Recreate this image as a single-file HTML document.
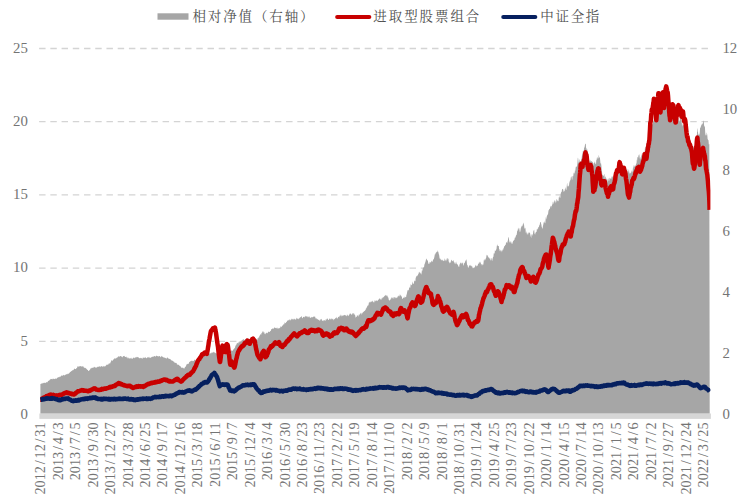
<!DOCTYPE html>
<html lang="zh"><head><meta charset="utf-8"><title>chart</title>
<style>
html,body{margin:0;padding:0;background:#fff;}
body{width:741px;height:498px;overflow:hidden;font-family:"Liberation Serif",serif;}
svg{display:block;}
</style></head><body>
<svg width="741" height="498" viewBox="0 0 741 498">
<rect width="741" height="498" fill="#fff"/>
<line x1="39.1" x2="708" y1="48.5" y2="48.5" stroke="#d4d4d4" stroke-width="1.3" stroke-dasharray="6.45 4.777"/>
<line x1="39.1" x2="708" y1="121.7" y2="121.7" stroke="#d4d4d4" stroke-width="1.3" stroke-dasharray="6.45 4.777"/>
<line x1="39.1" x2="708" y1="194.9" y2="194.9" stroke="#d4d4d4" stroke-width="1.3" stroke-dasharray="6.45 4.777"/>
<line x1="39.1" x2="708" y1="268.1" y2="268.1" stroke="#d4d4d4" stroke-width="1.3" stroke-dasharray="6.45 4.777"/>
<line x1="39.1" x2="708" y1="341.3" y2="341.3" stroke="#d4d4d4" stroke-width="1.3" stroke-dasharray="6.45 4.777"/>
<path d="M40.4,413.7 L40.4,383.7 40.7,383.9 41.0,383.9 41.3,383.4 41.6,383.5 41.9,383.4 42.2,383.5 42.5,383.6 42.8,383.0 43.1,382.6 43.4,383.3 43.7,383.1 44.0,383.3 44.3,382.6 44.6,382.7 44.9,383.0 45.2,382.6 45.5,383.1 45.8,383.2 46.1,382.3 46.4,382.0 46.7,382.3 47.0,382.8 47.3,382.3 47.6,381.7 47.9,381.6 48.2,381.0 48.5,380.8 48.8,380.8 49.1,380.7 49.4,380.2 49.7,379.9 50.0,379.6 50.3,379.6 50.6,379.2 50.9,378.7 51.2,379.2 51.5,379.1 51.8,379.1 52.1,378.6 52.4,379.3 52.7,379.4 53.0,378.6 53.3,378.5 53.6,378.9 53.9,379.0 54.2,379.2 54.5,378.7 54.8,379.0 55.1,378.8 55.4,378.4 55.7,378.5 56.0,378.8 56.3,378.9 56.6,378.5 56.9,378.3 57.2,377.6 57.5,377.5 57.8,377.9 58.1,377.6 58.4,377.1 58.7,377.2 59.0,377.3 59.3,377.2 59.6,376.8 59.9,376.6 60.2,376.5 60.5,376.7 60.8,376.4 61.1,376.0 61.4,375.9 61.7,375.2 62.0,374.9 62.3,375.5 62.6,376.0 62.9,375.7 63.2,375.3 63.5,374.8 63.8,375.0 64.1,375.5 64.4,375.4 64.7,375.0 65.0,375.2 65.3,374.5 65.6,374.5 65.9,375.0 66.2,374.6 66.5,374.3 66.8,373.9 67.1,374.1 67.4,374.5 67.7,373.4 68.0,373.8 68.3,373.8 68.6,373.8 68.9,373.5 69.2,373.3 69.5,372.8 69.8,372.5 70.1,372.1 70.4,371.4 70.7,372.0 71.0,371.7 71.3,371.0 71.6,371.0 71.9,370.8 72.2,370.5 72.5,370.2 72.8,370.2 73.1,370.2 73.4,370.1 73.7,369.7 74.0,368.9 74.3,368.7 74.6,368.5 74.9,368.8 75.2,369.2 75.5,369.1 75.8,368.9 76.1,368.8 76.4,367.9 76.7,368.2 77.0,368.0 77.3,367.0 77.6,366.5 77.9,366.1 78.2,366.9 78.5,366.5 78.8,366.2 79.1,366.7 79.4,366.5 79.7,366.1 80.0,366.0 80.3,366.5 80.6,366.1 80.9,366.1 81.2,366.7 81.5,366.5 81.8,366.3 82.1,366.4 82.4,365.9 82.7,366.4 83.0,366.7 83.3,366.6 83.6,366.6 83.9,367.7 84.2,367.8 84.5,367.5 84.8,368.0 85.1,368.6 85.4,367.9 85.7,367.8 86.0,368.0 86.3,368.9 86.6,368.7 86.9,369.5 87.2,369.8 87.5,370.0 87.8,369.7 88.1,370.7 88.4,371.0 88.7,370.9 89.0,370.6 89.3,370.6 89.6,370.0 89.9,369.8 90.2,369.2 90.5,369.1 90.8,368.1 91.1,367.8 91.4,368.4 91.7,368.2 92.0,367.5 92.3,367.9 92.6,367.4 92.9,368.0 93.2,367.9 93.5,367.4 93.8,367.0 94.1,366.5 94.4,367.5 94.7,366.7 95.0,367.4 95.3,367.9 95.6,367.5 95.9,366.8 96.2,367.5 96.5,367.8 96.8,367.6 97.1,367.2 97.4,366.9 97.7,366.7 98.0,366.4 98.3,366.9 98.6,366.8 98.9,366.4 99.2,366.1 99.5,366.7 99.8,366.4 100.1,366.5 100.4,366.3 100.7,367.0 101.0,367.2 101.3,366.1 101.6,365.9 101.9,366.0 102.2,366.8 102.5,366.9 102.8,366.2 103.1,365.8 103.4,366.3 103.7,366.6 104.0,366.8 104.3,366.1 104.6,366.5 104.9,366.4 105.2,366.0 105.5,366.4 105.8,365.4 106.1,365.6 106.4,364.7 106.7,364.4 107.0,365.2 107.3,364.4 107.6,364.7 107.9,364.5 108.2,364.7 108.5,363.9 108.8,363.5 109.1,363.2 109.4,363.7 109.7,363.3 110.0,363.5 110.3,363.2 110.6,361.9 110.9,361.8 111.2,360.9 111.5,360.3 111.8,360.0 112.1,360.8 112.4,360.8 112.7,360.7 113.0,359.7 113.3,359.6 113.6,359.8 113.9,359.1 114.2,359.1 114.5,358.5 114.8,357.9 115.1,357.9 115.4,358.8 115.7,358.5 116.0,358.8 116.3,358.1 116.6,357.5 116.9,358.0 117.2,358.1 117.5,356.8 117.8,357.3 118.1,356.4 118.4,356.1 118.7,357.1 119.0,356.1 119.3,356.1 119.6,357.2 119.9,356.8 120.2,356.1 120.5,355.9 120.8,356.0 121.1,356.8 121.4,356.0 121.7,357.0 122.0,356.5 122.3,357.3 122.6,357.4 122.9,356.5 123.2,356.1 123.5,356.3 123.8,355.8 124.1,356.5 124.4,355.9 124.7,355.7 125.0,357.2 125.3,356.7 125.6,357.0 125.9,357.0 126.2,356.8 126.5,356.4 126.8,357.7 127.1,358.2 127.4,358.5 127.7,357.3 128.0,357.1 128.3,357.7 128.6,358.6 128.9,358.2 129.2,358.4 129.5,358.5 129.8,358.3 130.1,358.7 130.4,358.4 130.7,358.1 131.0,357.7 131.3,357.8 131.6,358.9 131.9,358.4 132.2,358.5 132.5,358.5 132.8,358.9 133.1,358.1 133.4,357.7 133.7,357.5 134.0,357.4 134.3,358.1 134.6,358.4 134.9,357.5 135.2,357.2 135.5,357.4 135.8,357.6 136.1,357.7 136.4,357.2 136.7,356.7 137.0,356.9 137.3,356.8 137.6,357.5 137.9,357.0 138.2,356.9 138.5,357.7 138.8,357.5 139.1,358.2 139.4,358.0 139.7,358.5 140.0,357.7 140.3,357.9 140.6,358.5 140.9,357.6 141.2,358.6 141.5,357.7 141.8,358.3 142.1,358.8 142.4,358.7 142.7,357.9 143.0,357.2 143.3,357.6 143.6,358.3 143.9,357.6 144.2,358.2 144.5,357.3 144.8,358.1 145.1,357.0 145.4,357.0 145.7,357.9 146.0,358.1 146.3,358.3 146.6,358.2 146.9,358.1 147.2,357.9 147.5,357.1 147.8,357.2 148.1,356.8 148.4,357.5 148.7,357.7 149.0,357.1 149.3,356.7 149.6,357.9 149.9,358.1 150.2,357.7 150.5,357.6 150.8,358.0 151.1,357.6 151.4,357.3 151.7,357.1 152.0,356.8 152.3,356.3 152.6,357.1 152.9,356.9 153.2,357.1 153.5,356.3 153.8,356.4 154.1,356.1 154.4,355.9 154.7,356.0 155.0,356.8 155.3,356.4 155.6,356.2 155.9,356.5 156.2,355.9 156.5,355.3 156.8,355.9 157.1,356.0 157.4,356.3 157.7,356.1 158.0,356.5 158.3,356.7 158.6,356.0 158.9,356.2 159.2,356.3 159.5,355.9 159.8,356.1 160.1,356.5 160.4,357.1 160.7,357.4 161.0,356.5 161.3,356.8 161.6,356.0 161.9,355.8 162.2,356.4 162.5,357.3 162.8,356.5 163.1,357.2 163.4,357.7 163.7,357.0 164.0,357.4 164.3,357.9 164.6,357.3 164.9,357.7 165.2,357.9 165.5,357.8 165.8,358.3 166.1,358.5 166.4,358.7 166.7,358.3 167.0,357.6 167.3,357.5 167.6,357.4 167.9,358.0 168.2,358.7 168.5,357.9 168.8,358.7 169.1,359.1 169.4,358.8 169.7,359.0 170.0,358.7 170.3,359.5 170.6,358.9 170.9,360.1 171.2,360.4 171.5,360.4 171.8,359.9 172.1,360.8 172.4,361.3 172.7,360.3 173.0,361.0 173.3,361.5 173.6,361.6 173.9,361.8 174.2,361.7 174.5,362.5 174.8,363.0 175.1,362.5 175.4,363.1 175.7,363.0 176.0,362.7 176.3,363.0 176.6,363.0 176.9,364.2 177.2,364.9 177.5,364.1 177.8,364.7 178.1,364.8 178.4,364.6 178.7,364.9 179.0,365.1 179.3,366.1 179.6,365.5 179.9,365.8 180.2,366.3 180.5,366.1 180.8,367.0 181.1,367.5 181.4,368.1 181.7,367.4 182.0,367.4 182.3,367.7 182.6,367.6 182.9,367.9 183.2,367.7 183.5,368.2 183.8,368.6 184.1,368.6 184.4,368.5 184.7,367.7 185.0,367.1 185.3,367.1 185.6,366.7 185.9,366.1 186.2,365.4 186.5,364.8 186.8,364.1 187.1,364.6 187.4,363.7 187.7,364.0 188.0,363.7 188.3,363.9 188.6,363.6 188.9,363.5 189.2,362.1 189.5,362.0 189.8,361.8 190.1,361.3 190.4,361.4 190.7,361.1 191.0,361.3 191.3,360.5 191.6,360.8 191.9,360.9 192.2,360.7 192.5,360.7 192.8,361.2 193.1,361.2 193.4,360.8 193.7,360.9 194.0,360.5 194.3,360.0 194.6,359.5 194.9,359.7 195.2,360.2 195.5,360.7 195.8,360.6 196.1,360.0 196.4,360.4 196.7,359.6 197.0,359.7 197.3,359.0 197.6,359.1 197.9,359.4 198.2,358.4 198.5,357.6 198.8,358.0 199.1,357.8 199.4,357.3 199.7,356.6 200.0,356.8 200.3,356.8 200.6,356.7 200.9,357.3 201.2,356.9 201.5,357.0 201.8,357.1 202.1,356.8 202.4,356.3 202.7,356.3 203.0,356.1 203.3,356.0 203.6,355.8 203.9,355.3 204.2,355.5 204.5,355.5 204.8,355.9 205.1,355.7 205.4,355.7 205.7,355.5 206.0,355.5 206.3,355.1 206.6,354.5 206.9,354.1 207.2,354.6 207.5,355.0 207.8,354.5 208.1,353.7 208.4,354.4 208.7,354.0 209.0,353.8 209.3,353.0 209.6,353.4 209.9,353.9 210.2,353.5 210.5,353.1 210.8,353.4 211.1,352.3 211.4,352.6 211.7,353.4 212.0,353.1 212.3,352.5 212.6,352.6 212.9,352.4 213.2,351.8 213.5,351.7 213.8,352.8 214.1,352.3 214.4,351.8 214.7,353.0 215.0,352.9 215.3,352.7 215.6,353.0 215.9,353.5 216.2,352.8 216.5,353.4 216.8,353.8 217.1,354.1 217.4,353.5 217.7,353.8 218.0,353.4 218.3,353.9 218.6,353.5 218.9,354.4 219.2,354.8 219.5,354.1 219.8,353.7 220.1,354.7 220.4,354.7 220.7,354.9 221.0,353.6 221.3,354.6 221.6,354.5 221.9,354.0 222.2,354.0 222.5,354.5 222.8,354.7 223.1,353.8 223.4,354.2 223.7,353.6 224.0,354.7 224.3,354.3 224.6,354.8 224.9,354.8 225.2,354.5 225.5,353.7 225.8,353.7 226.1,353.0 226.4,352.7 226.7,353.4 227.0,353.0 227.3,353.4 227.6,352.6 227.9,353.0 228.2,353.0 228.5,352.3 228.8,351.6 229.1,351.7 229.4,351.8 229.7,351.1 230.0,350.9 230.3,350.5 230.6,351.2 230.9,351.7 231.2,350.7 231.5,349.9 231.8,350.6 232.1,350.9 232.4,351.1 232.7,350.5 233.0,349.7 233.3,350.1 233.6,348.9 233.9,349.3 234.2,348.3 234.5,348.4 234.8,348.0 235.1,347.2 235.4,346.0 235.7,345.3 236.0,345.6 236.3,344.7 236.6,344.1 236.9,343.2 237.2,343.6 237.5,342.8 237.8,342.9 238.1,343.3 238.4,343.4 238.7,341.5 239.0,342.2 239.3,342.5 239.6,341.4 239.9,341.1 240.2,341.3 240.5,341.9 240.8,341.0 241.1,341.5 241.4,341.4 241.7,340.1 242.0,341.1 242.3,339.7 242.6,339.4 242.9,340.2 243.2,339.3 243.5,339.6 243.8,339.1 244.1,339.6 244.4,340.4 244.7,340.8 245.0,339.3 245.3,338.8 245.6,340.1 245.9,338.9 246.2,339.0 246.5,338.7 246.8,338.5 247.1,338.3 247.4,339.3 247.7,339.9 248.0,340.0 248.3,340.3 248.6,340.0 248.9,339.4 249.2,339.6 249.5,340.3 249.8,339.9 250.1,338.9 250.4,338.2 250.7,339.6 251.0,339.4 251.3,338.9 251.6,339.2 251.9,339.1 252.2,339.0 252.5,338.1 252.8,338.3 253.1,338.5 253.4,338.1 253.7,339.2 254.0,338.7 254.3,339.0 254.6,339.2 254.9,339.3 255.2,339.4 255.5,339.5 255.8,338.6 256.1,339.8 256.4,338.6 256.7,339.8 257.0,340.1 257.3,340.3 257.6,338.6 257.9,337.7 258.2,338.5 258.5,337.8 258.8,337.1 259.1,337.7 259.4,335.8 259.7,335.8 260.0,335.3 260.3,334.3 260.6,334.2 260.9,334.6 261.2,334.8 261.5,332.9 261.8,333.0 262.1,331.9 262.4,332.8 262.7,331.3 263.0,330.7 263.3,331.5 263.6,332.7 263.9,332.3 264.2,332.0 264.5,333.4 264.8,334.1 265.1,334.5 265.4,333.7 265.7,333.6 266.0,333.0 266.3,333.3 266.6,332.7 266.9,332.4 267.2,333.1 267.5,333.6 267.8,332.8 268.1,331.4 268.4,331.9 268.7,331.5 269.0,332.3 269.3,331.9 269.6,331.9 269.9,331.4 270.2,330.8 270.5,331.2 270.8,331.0 271.1,329.7 271.4,328.9 271.7,328.9 272.0,329.2 272.3,328.3 272.6,328.4 272.9,328.8 273.2,327.7 273.5,328.9 273.8,328.9 274.1,328.0 274.4,327.6 274.7,327.5 275.0,327.3 275.3,328.2 275.6,328.1 275.9,328.1 276.2,327.4 276.5,328.8 276.8,328.1 277.1,327.9 277.4,327.3 277.7,329.2 278.0,328.3 278.3,328.6 278.6,328.5 278.9,328.2 279.2,327.8 279.5,328.1 279.8,328.4 280.1,328.2 280.4,326.4 280.7,326.4 281.0,326.4 281.3,327.2 281.6,326.8 281.9,326.3 282.2,326.1 282.5,325.0 282.8,325.8 283.1,325.2 283.4,324.3 283.7,324.0 284.0,324.8 284.3,324.0 284.6,322.8 284.9,322.2 285.2,323.0 285.5,322.9 285.8,323.6 286.1,322.0 286.4,321.8 286.7,322.4 287.0,320.9 287.3,320.3 287.6,321.0 287.9,320.5 288.2,319.8 288.5,319.9 288.8,320.7 289.1,320.6 289.4,319.4 289.7,318.9 290.0,320.4 290.3,320.4 290.6,319.2 290.9,320.3 291.2,318.6 291.5,318.7 291.8,319.8 292.1,319.8 292.4,318.6 292.7,319.6 293.0,319.1 293.3,319.5 293.6,319.7 293.9,318.6 294.2,318.9 294.5,318.6 294.8,319.5 295.1,319.5 295.4,319.3 295.7,319.4 296.0,319.9 296.3,318.3 296.6,317.6 296.9,318.7 297.2,319.1 297.5,318.6 297.8,318.4 298.1,318.1 298.4,319.2 298.7,319.3 299.0,318.9 299.3,317.3 299.6,318.6 299.9,318.0 300.2,317.1 300.5,317.0 300.8,317.8 301.1,316.4 301.4,316.1 301.7,316.4 302.0,317.8 302.3,317.9 302.6,318.4 302.9,317.4 303.2,317.1 303.5,316.9 303.8,316.7 304.1,316.5 304.4,317.1 304.7,317.7 305.0,316.6 305.3,316.7 305.6,316.0 305.9,315.7 306.2,316.1 306.5,316.5 306.8,316.5 307.1,317.5 307.4,315.9 307.7,316.5 308.0,317.6 308.3,317.3 308.6,316.8 308.9,316.2 309.2,316.0 309.5,317.3 309.8,317.6 310.1,317.3 310.4,317.8 310.7,318.1 311.0,318.0 311.3,316.9 311.6,316.8 311.9,317.6 312.2,316.9 312.5,317.6 312.8,317.3 313.1,316.8 313.4,317.0 313.7,316.3 314.0,316.7 314.3,317.0 314.6,316.2 314.9,316.4 315.2,316.7 315.5,318.4 315.8,318.4 316.1,317.8 316.4,319.4 316.7,318.3 317.0,318.6 317.3,319.3 317.6,319.6 317.9,319.1 318.2,319.9 318.5,319.6 318.8,320.1 319.1,319.9 319.4,320.9 319.7,320.7 320.0,319.2 320.3,318.8 320.6,320.7 320.9,319.6 321.2,318.8 321.5,319.1 321.8,319.7 322.1,321.1 322.4,320.3 322.7,320.8 323.0,321.3 323.3,319.7 323.6,320.3 323.9,321.4 324.2,320.6 324.5,320.3 324.8,319.7 325.1,320.8 325.4,321.3 325.7,319.3 326.0,319.6 326.3,319.4 326.6,319.8 326.9,318.6 327.2,318.5 327.5,318.5 327.8,318.9 328.1,319.7 328.4,320.1 328.7,320.1 329.0,319.8 329.3,318.3 329.6,318.5 329.9,319.2 330.2,318.6 330.5,318.9 330.8,319.9 331.1,318.4 331.4,319.7 331.7,318.3 332.0,318.5 332.3,319.8 332.6,318.6 332.9,318.9 333.2,318.8 333.5,319.9 333.8,320.5 334.1,319.0 334.4,318.8 334.7,319.6 335.0,318.9 335.3,317.8 335.6,318.6 335.9,317.8 336.2,317.8 336.5,316.5 336.8,318.4 337.1,318.1 337.4,318.6 337.7,318.7 338.0,317.0 338.3,317.0 338.6,316.6 338.9,317.2 339.2,317.4 339.5,316.0 339.8,315.5 340.1,316.2 340.4,315.7 340.7,314.7 341.0,314.6 341.3,315.4 341.6,315.8 341.9,316.8 342.2,316.1 342.5,316.1 342.8,314.9 343.1,315.2 343.4,314.9 343.7,315.9 344.0,315.2 344.3,314.8 344.6,315.0 344.9,315.3 345.2,315.1 345.5,315.7 345.8,314.9 346.1,316.3 346.4,316.3 346.7,315.8 347.0,314.5 347.3,314.6 347.6,315.5 347.9,315.6 348.2,316.0 348.5,316.3 348.8,315.0 349.1,314.9 349.4,314.5 349.7,313.8 350.0,313.5 350.3,313.7 350.6,313.2 350.9,314.1 351.2,314.8 351.5,314.6 351.8,314.8 352.1,313.6 352.4,313.1 352.7,313.8 353.0,314.7 353.3,313.9 353.6,313.0 353.9,312.9 354.2,313.8 354.5,315.1 354.8,314.5 355.1,314.9 355.4,316.4 355.7,317.9 356.0,317.0 356.3,317.1 356.6,316.9 356.9,315.5 357.2,315.7 357.5,315.2 357.8,315.2 358.1,316.4 358.4,316.6 358.7,314.9 359.0,314.3 359.3,315.6 359.6,314.3 359.9,314.3 360.2,314.0 360.5,313.3 360.8,312.8 361.1,312.8 361.4,313.3 361.7,314.7 362.0,314.3 362.3,312.8 362.6,313.2 362.9,312.0 363.2,312.0 363.5,311.3 363.8,312.4 364.1,311.0 364.4,311.3 364.7,310.7 365.0,310.8 365.3,309.9 365.6,310.0 365.9,308.5 366.2,308.4 366.5,307.9 366.8,307.2 367.1,306.7 367.4,306.1 367.7,305.2 368.0,306.0 368.3,305.2 368.6,304.4 368.9,302.5 369.2,302.9 369.5,302.1 369.8,301.8 370.1,302.2 370.4,302.5 370.7,301.7 371.0,301.3 371.3,301.8 371.6,301.7 371.9,301.4 372.2,300.5 372.5,300.9 372.8,301.8 373.1,301.7 373.4,301.7 373.7,302.5 374.0,302.4 374.3,302.2 374.6,300.3 374.9,300.4 375.2,301.3 375.5,300.1 375.8,301.7 376.1,300.0 376.4,301.3 376.7,299.9 377.0,301.0 377.3,301.3 377.6,299.9 377.9,300.9 378.2,299.1 378.5,300.3 378.8,299.4 379.1,299.1 379.4,298.1 379.7,299.0 380.0,298.3 380.3,299.2 380.6,299.8 380.9,299.3 381.2,297.5 381.5,299.4 381.8,299.7 382.1,298.8 382.4,297.6 382.7,297.5 383.0,298.1 383.3,297.0 383.6,297.3 383.9,296.7 384.2,295.8 384.5,296.7 384.8,295.6 385.1,296.0 385.4,294.7 385.7,295.6 386.0,294.8 386.3,296.6 386.6,295.4 386.9,295.3 387.2,295.6 387.5,295.9 387.8,297.2 388.1,297.4 388.4,297.4 388.7,299.6 389.0,300.3 389.3,300.0 389.6,300.4 389.9,300.8 390.2,299.3 390.5,300.0 390.8,298.5 391.1,298.7 391.4,297.9 391.7,296.9 392.0,298.1 392.3,298.8 392.6,297.1 392.9,298.0 393.2,297.0 393.5,297.6 393.8,298.9 394.1,298.8 394.4,296.8 394.7,297.2 395.0,297.3 395.3,297.1 395.6,298.6 395.9,297.9 396.2,298.3 396.5,298.1 396.8,297.6 397.1,296.0 397.4,297.2 397.7,298.1 398.0,296.1 398.3,296.5 398.6,296.1 398.9,295.3 399.2,295.9 399.5,296.7 399.8,294.0 400.1,295.4 400.4,294.2 400.7,295.9 401.0,295.0 401.3,296.7 401.6,296.0 401.9,296.9 402.2,299.0 402.5,298.7 402.8,298.8 403.1,297.9 403.4,297.6 403.7,297.4 404.0,298.1 404.3,298.2 404.6,296.6 404.9,296.7 405.2,296.9 405.5,296.8 405.8,297.5 406.1,297.3 406.4,294.9 406.7,294.5 407.0,293.1 407.3,291.6 407.6,290.6 407.9,289.8 408.2,290.7 408.5,290.1 408.8,289.9 409.1,288.0 409.4,286.5 409.7,288.1 410.0,287.8 410.3,287.7 410.6,284.4 410.9,284.2 411.2,284.7 411.5,284.9 411.8,285.4 412.1,284.2 412.4,283.1 412.7,281.3 413.0,283.0 413.3,284.0 413.6,283.9 413.9,282.9 414.2,281.3 414.5,280.2 414.8,281.0 415.1,281.2 415.4,281.0 415.7,277.8 416.0,277.5 416.3,276.7 416.6,275.7 416.9,276.0 417.2,276.2 417.5,275.4 417.8,274.9 418.1,274.5 418.4,274.0 418.7,273.3 419.0,271.8 419.3,273.0 419.6,271.4 419.9,272.8 420.2,272.6 420.5,273.2 420.8,273.8 421.1,273.6 421.4,274.9 421.7,272.1 422.0,269.7 422.3,271.5 422.6,269.3 422.9,267.9 423.2,267.3 423.5,267.2 423.8,268.0 424.1,266.8 424.4,264.5 424.7,263.9 425.0,262.9 425.3,262.2 425.6,261.3 425.9,259.7 426.2,259.6 426.5,259.1 426.8,258.3 427.1,260.8 427.4,260.4 427.7,259.8 428.0,261.4 428.3,263.3 428.6,264.1 428.9,263.8 429.2,264.1 429.5,262.9 429.8,261.8 430.1,261.9 430.4,262.4 430.7,262.3 431.0,262.7 431.3,261.5 431.6,260.8 431.9,260.8 432.2,260.4 432.5,262.2 432.8,261.7 433.1,259.4 433.4,258.9 433.7,259.8 434.0,258.4 434.3,257.3 434.6,255.7 434.9,253.9 435.2,254.7 435.5,252.5 435.8,254.1 436.1,251.6 436.4,253.0 436.7,251.7 437.0,252.1 437.3,251.5 437.6,249.9 437.9,251.9 438.2,251.5 438.5,252.7 438.8,254.3 439.1,254.8 439.4,256.7 439.7,259.0 440.0,257.9 440.3,259.6 440.6,258.4 440.9,260.1 441.2,259.8 441.5,260.7 441.8,259.2 442.1,261.3 442.4,259.7 442.7,260.1 443.0,259.5 443.3,261.2 443.6,260.9 443.9,260.8 444.2,261.3 444.5,259.5 444.8,258.1 445.1,260.4 445.4,259.2 445.7,260.5 446.0,261.4 446.3,260.5 446.6,258.1 446.9,260.0 447.2,259.8 447.5,258.2 447.8,257.8 448.1,259.1 448.4,258.4 448.7,261.4 449.0,262.0 449.3,262.9 449.6,261.9 449.9,263.8 450.2,261.9 450.5,263.2 450.8,261.7 451.1,260.1 451.4,259.8 451.7,259.9 452.0,261.8 452.3,260.9 452.6,260.8 452.9,261.1 453.2,259.7 453.5,260.7 453.8,261.5 454.1,262.8 454.4,262.0 454.7,263.2 455.0,264.2 455.3,264.0 455.6,262.9 455.9,262.1 456.2,261.5 456.5,264.3 456.8,263.1 457.1,264.6 457.4,265.0 457.7,264.0 458.0,264.6 458.3,266.7 458.6,266.1 458.9,267.0 459.2,267.1 459.5,263.9 459.8,264.7 460.1,262.4 460.4,262.7 460.7,262.7 461.0,264.6 461.3,264.0 461.6,262.4 461.9,263.1 462.2,263.4 462.5,262.4 462.8,262.6 463.1,264.7 463.4,265.8 463.7,265.2 464.0,262.1 464.3,263.8 464.6,262.6 464.9,263.3 465.2,260.9 465.5,259.7 465.8,261.8 466.1,260.0 466.4,259.1 466.7,261.2 467.0,264.3 467.3,265.4 467.6,264.8 467.9,267.3 468.2,268.0 468.5,267.8 468.8,266.8 469.1,265.3 469.4,266.3 469.7,264.8 470.0,265.7 470.3,264.6 470.6,266.2 470.9,265.5 471.2,265.5 471.5,266.5 471.8,266.3 472.1,266.0 472.4,267.5 472.7,268.6 473.0,266.8 473.3,268.1 473.6,268.2 473.9,268.0 474.2,266.5 474.5,267.9 474.8,267.5 475.1,266.6 475.4,264.8 475.7,265.9 476.0,264.3 476.3,267.0 476.6,266.0 476.9,265.8 477.2,265.9 477.5,265.7 477.8,265.0 478.1,263.9 478.4,263.6 478.7,263.9 479.0,262.0 479.3,262.2 479.6,263.7 479.9,261.6 480.2,261.7 480.5,262.7 480.8,262.9 481.1,265.7 481.4,264.3 481.7,264.0 482.0,263.9 482.3,264.2 482.6,265.0 482.9,265.5 483.2,264.8 483.5,263.3 483.8,260.3 484.1,258.9 484.4,260.1 484.7,260.9 485.0,258.8 485.3,260.4 485.6,259.0 485.9,258.3 486.2,257.8 486.5,255.3 486.8,254.4 487.1,256.7 487.4,255.6 487.7,254.8 488.0,255.7 488.3,257.9 488.6,257.3 488.9,257.2 489.2,257.7 489.5,258.3 489.8,259.3 490.1,258.0 490.4,259.6 490.7,260.6 491.0,260.6 491.3,258.0 491.6,258.1 491.9,260.5 492.2,261.2 492.5,258.9 492.8,258.1 493.1,256.8 493.4,257.1 493.7,253.8 494.0,253.0 494.3,253.6 494.6,253.8 494.9,250.2 495.2,250.7 495.5,250.7 495.8,251.1 496.1,249.0 496.4,250.0 496.7,246.9 497.0,245.0 497.3,244.2 497.6,246.3 497.9,245.4 498.2,246.0 498.5,246.1 498.8,245.9 499.1,249.6 499.4,248.7 499.7,251.1 500.0,251.3 500.3,249.6 500.6,252.0 500.9,249.5 501.2,252.7 501.5,250.3 501.8,250.6 502.1,251.7 502.4,249.3 502.7,251.1 503.0,248.6 503.3,250.3 503.6,247.4 503.9,247.9 504.2,246.4 504.5,245.9 504.8,246.1 505.1,245.3 505.4,244.7 505.7,245.1 506.0,243.1 506.3,241.9 506.6,243.1 506.9,241.7 507.2,243.4 507.5,241.6 507.8,240.9 508.1,238.5 508.4,237.3 508.7,236.9 509.0,239.5 509.3,240.9 509.6,242.9 509.9,241.8 510.2,242.9 510.5,242.1 510.8,240.9 511.1,241.5 511.4,242.8 511.7,243.5 512.0,244.2 512.3,243.8 512.6,242.4 512.9,241.7 513.2,241.1 513.5,240.6 513.8,240.7 514.1,239.8 514.4,240.3 514.7,238.3 515.0,237.2 515.3,238.0 515.6,237.1 515.9,235.7 516.2,235.0 516.5,235.2 516.8,234.0 517.1,231.6 517.4,230.5 517.7,230.8 518.0,228.1 518.3,228.4 518.6,229.9 518.9,227.4 519.2,228.2 519.5,230.0 519.8,232.0 520.1,232.1 520.4,231.0 520.7,228.7 521.0,227.4 521.3,227.2 521.6,225.4 521.9,226.8 522.2,223.7 522.5,225.9 522.8,226.5 523.1,224.6 523.4,222.6 523.7,223.2 524.0,224.6 524.3,227.2 524.6,229.3 524.9,227.9 525.2,227.7 525.5,228.7 525.8,232.8 526.1,232.9 526.4,230.9 526.7,232.8 527.0,234.8 527.3,234.2 527.6,232.6 527.9,234.8 528.2,234.3 528.5,231.8 528.8,233.3 529.1,232.5 529.4,232.6 529.7,232.7 530.0,233.1 530.3,234.4 530.6,236.0 530.9,236.9 531.2,238.3 531.5,234.9 531.8,233.8 532.1,236.1 532.4,235.1 532.7,234.3 533.0,233.7 533.3,231.3 533.6,230.7 533.9,230.0 534.2,229.8 534.5,233.5 534.8,234.0 535.1,234.9 535.4,231.7 535.7,233.7 536.0,231.9 536.3,231.7 536.6,231.9 536.9,228.7 537.2,228.6 537.5,229.0 537.8,230.1 538.1,228.6 538.4,226.8 538.7,227.2 539.0,226.8 539.3,225.1 539.6,225.3 539.9,223.8 540.2,221.7 540.5,222.3 540.8,221.9 541.1,223.8 541.4,224.8 541.7,227.0 542.0,227.5 542.3,227.9 542.6,229.3 542.9,226.2 543.2,225.0 543.5,223.5 543.8,222.0 544.1,222.8 544.4,222.7 544.7,220.5 545.0,222.8 545.3,223.5 545.6,219.2 545.9,217.0 546.2,216.1 546.5,218.5 546.8,219.5 547.1,215.8 547.4,213.9 547.7,215.2 548.0,214.4 548.3,211.9 548.6,210.3 548.9,210.1 549.2,209.3 549.5,208.8 549.8,209.2 550.1,207.2 550.4,206.3 550.7,205.6 551.0,208.4 551.3,205.9 551.6,206.2 551.9,205.6 552.2,204.5 552.5,204.2 552.8,201.8 553.1,201.5 553.4,203.3 553.7,204.2 554.0,201.5 554.3,200.0 554.6,202.8 554.9,199.6 555.2,202.1 555.5,203.4 555.8,200.3 556.1,202.7 556.4,200.2 556.7,198.8 557.0,199.6 557.3,200.2 557.6,201.6 557.9,200.6 558.2,201.6 558.5,200.9 558.8,197.5 559.1,196.3 559.4,198.2 559.7,195.2 560.0,198.0 560.3,197.8 560.6,194.3 560.9,193.1 561.2,192.1 561.5,192.2 561.8,191.0 562.1,189.0 562.4,189.2 562.7,188.8 563.0,189.3 563.3,189.8 563.6,192.0 563.9,191.5 564.2,190.8 564.5,191.7 564.8,189.4 565.1,188.5 565.4,186.9 565.7,189.1 566.0,189.9 566.3,190.0 566.6,188.1 566.9,184.6 567.2,182.8 567.5,185.8 567.8,187.0 568.1,185.3 568.4,186.4 568.7,186.6 569.0,185.4 569.3,182.7 569.6,181.9 569.9,180.7 570.2,180.3 570.5,180.2 570.8,177.4 571.1,176.7 571.4,176.3 571.7,178.0 572.0,180.0 572.3,179.5 572.6,175.9 572.9,176.0 573.2,176.6 573.5,173.8 573.8,172.2 574.1,174.2 574.4,172.5 574.7,173.1 575.0,169.7 575.3,171.4 575.6,168.1 575.9,166.7 576.2,166.0 576.5,167.1 576.8,166.9 577.1,165.7 577.4,163.6 577.7,158.5 578.0,157.6 578.3,159.5 578.6,162.9 578.9,162.6 579.2,159.4 579.5,159.3 579.8,162.9 580.1,160.9 580.4,161.9 580.7,161.8 581.0,161.0 581.3,159.4 581.6,158.6 581.9,156.0 582.2,153.0 582.5,156.2 582.8,151.2 583.1,150.2 583.4,151.3 583.7,153.2 584.0,148.5 584.3,146.3 584.6,148.4 584.9,145.1 585.2,143.7 585.5,144.3 585.8,143.3 586.1,149.2 586.4,150.4 586.7,147.6 587.0,148.4 587.3,150.0 587.6,153.1 587.9,158.4 588.2,156.9 588.5,158.0 588.8,158.7 589.1,159.8 589.4,162.3 589.7,161.0 590.0,162.6 590.3,160.9 590.6,159.5 590.9,161.6 591.2,161.1 591.5,161.0 591.8,161.8 592.1,161.7 592.4,162.7 592.7,161.6 593.0,162.5 593.3,166.6 593.6,163.8 593.9,163.1 594.2,162.4 594.5,163.1 594.8,161.3 595.1,162.3 595.4,163.8 595.7,163.9 596.0,164.5 596.3,159.6 596.6,160.5 596.9,157.7 597.2,157.1 597.5,157.7 597.8,158.9 598.1,157.9 598.4,158.8 598.7,154.7 599.0,155.9 599.3,158.1 599.6,157.1 599.9,157.7 600.2,160.6 600.5,163.7 600.8,163.2 601.1,163.6 601.4,166.1 601.7,170.3 602.0,171.7 602.3,175.0 602.6,174.5 602.9,176.4 603.2,175.8 603.5,175.6 603.8,175.7 604.1,174.3 604.4,174.0 604.7,177.4 605.0,179.9 605.3,176.5 605.6,176.4 605.9,177.4 606.2,177.9 606.5,181.0 606.8,179.1 607.1,178.8 607.4,179.8 607.7,182.8 608.0,180.5 608.3,181.3 608.6,178.0 608.9,178.7 609.2,181.4 609.5,178.2 609.8,177.6 610.1,178.8 610.4,178.6 610.7,178.5 611.0,178.6 611.3,178.9 611.6,176.9 611.9,176.3 612.2,176.3 612.5,176.8 612.8,177.2 613.1,178.6 613.4,176.1 613.7,175.2 614.0,176.7 614.3,177.7 614.6,173.7 614.9,174.6 615.2,172.0 615.5,173.5 615.8,169.7 616.1,170.7 616.4,171.1 616.7,171.6 617.0,172.8 617.3,172.5 617.6,170.9 617.9,169.9 618.2,166.6 618.5,168.4 618.8,169.0 619.1,170.1 619.4,167.0 619.7,168.3 620.0,165.5 620.3,168.2 620.6,169.6 620.9,167.8 621.2,168.7 621.5,169.0 621.8,167.2 622.1,165.5 622.4,168.8 622.7,167.8 623.0,166.5 623.3,167.7 623.6,170.5 623.9,172.3 624.2,170.8 624.5,172.6 624.8,168.7 625.1,169.2 625.4,166.6 625.7,167.0 626.0,170.8 626.3,167.5 626.6,169.8 626.9,169.7 627.2,172.5 627.5,173.5 627.8,169.0 628.1,168.7 628.4,172.9 628.7,171.0 629.0,169.8 629.3,173.7 629.6,173.8 629.9,172.3 630.2,173.5 630.5,173.2 630.8,172.6 631.1,172.5 631.4,169.9 631.7,171.2 632.0,173.1 632.3,171.4 632.6,171.6 632.9,168.5 633.2,166.4 633.5,164.5 633.8,169.1 634.1,165.5 634.4,165.5 634.7,166.7 635.0,167.3 635.3,166.4 635.6,164.4 635.9,165.4 636.2,163.1 636.5,164.0 636.8,159.3 637.1,161.0 637.4,157.3 637.7,157.2 638.0,156.9 638.3,154.6 638.6,155.2 638.9,158.2 639.2,154.5 639.5,154.3 639.8,159.0 640.1,157.6 640.4,156.9 640.7,159.5 641.0,159.2 641.3,155.1 641.6,155.9 641.9,153.4 642.2,155.7 642.5,154.9 642.8,155.7 643.1,151.3 643.4,154.6 643.7,151.2 644.0,153.5 644.3,151.5 644.6,153.1 644.9,148.6 645.2,146.1 645.5,147.2 645.8,149.8 646.1,147.3 646.4,146.0 646.7,142.9 647.0,143.6 647.3,142.5 647.6,144.4 647.9,143.6 648.2,141.1 648.5,137.5 648.8,135.7 649.1,139.7 649.4,138.2 649.7,134.6 650.0,136.6 650.3,132.7 650.6,132.2 650.9,134.1 651.2,129.1 651.5,126.7 651.8,124.8 652.1,124.1 652.4,124.7 652.7,123.9 653.0,122.7 653.3,119.8 653.6,121.3 653.9,120.9 654.2,122.0 654.5,118.8 654.8,118.9 655.1,116.5 655.4,118.1 655.7,114.1 656.0,114.3 656.3,113.5 656.6,112.7 656.9,112.4 657.2,111.7 657.5,109.3 657.8,111.5 658.1,112.7 658.4,110.3 658.7,109.9 659.0,110.1 659.3,107.2 659.6,107.9 659.9,107.0 660.2,106.9 660.5,106.2 660.8,107.0 661.1,105.0 661.4,104.5 661.7,104.0 662.0,106.6 662.3,105.1 662.6,108.3 662.9,110.3 663.2,110.0 663.5,106.8 663.8,110.1 664.1,107.0 664.4,106.1 664.7,107.6 665.0,108.6 665.3,107.2 665.6,109.5 665.9,110.8 666.2,107.4 666.5,105.8 666.8,106.5 667.1,109.0 667.4,110.0 667.7,107.2 668.0,107.9 668.3,112.1 668.6,114.2 668.9,112.7 669.2,113.6 669.5,114.6 669.8,111.0 670.1,108.9 670.4,112.4 670.7,112.5 671.0,115.1 671.3,113.6 671.6,114.4 671.9,117.6 672.2,114.1 672.5,115.2 672.8,114.1 673.1,116.5 673.4,119.0 673.7,121.8 674.0,121.4 674.3,117.4 674.6,118.2 674.9,119.4 675.2,120.8 675.5,121.9 675.8,124.3 676.1,125.2 676.4,120.8 676.7,119.2 677.0,124.3 677.3,120.3 677.6,124.2 677.9,119.8 678.2,121.2 678.5,118.5 678.8,117.5 679.1,118.3 679.4,121.6 679.7,122.0 680.0,119.4 680.3,117.9 680.6,119.3 680.9,118.9 681.2,119.6 681.5,122.0 681.8,123.2 682.1,126.9 682.4,123.0 682.7,125.0 683.0,126.3 683.3,124.3 683.6,125.5 683.9,124.8 684.2,129.9 684.5,128.5 684.8,126.6 685.1,129.0 685.4,130.6 685.7,133.8 686.0,134.3 686.3,131.5 686.6,135.5 686.9,131.4 687.2,135.0 687.5,132.7 687.8,137.5 688.1,135.7 688.4,139.5 688.7,141.5 689.0,142.6 689.3,139.3 689.6,140.6 689.9,139.8 690.2,143.9 690.5,147.7 690.8,146.7 691.1,147.5 691.4,147.9 691.7,145.0 692.0,145.6 692.3,145.9 692.6,148.6 692.9,147.7 693.2,147.3 693.5,148.5 693.8,147.0 694.1,145.6 694.4,145.8 694.7,144.4 695.0,147.6 695.3,147.3 695.6,147.9 695.9,147.6 696.2,140.7 696.5,140.6 696.8,138.2 697.1,129.6 697.4,128.1 697.7,132.0 698.0,131.8 698.3,135.3 698.6,134.9 698.9,134.1 699.2,135.1 699.5,134.3 699.8,132.5 700.1,127.8 700.4,127.4 700.7,127.7 701.0,125.6 701.3,125.2 701.6,123.4 701.9,125.9 702.2,122.7 702.5,124.4 702.8,123.8 703.1,121.7 703.4,120.3 703.7,121.5 704.0,124.0 704.3,126.9 704.6,125.9 704.9,126.7 705.2,132.3 705.5,136.1 705.8,134.6 706.1,135.0 706.4,135.7 706.7,132.3 707.0,133.6 707.3,135.2 707.6,139.1 707.9,139.5 708.2,140.1 708.5,140.3 708.8,144.4 709.1,144.2 709.3,144.0 L709.7,413.7 Z" fill="#a6a6a6"/>
<rect x="39.4" y="413.5" width="671.5" height="5.4" fill="#d6d6d6"/>
<clipPath id="pc"><rect x="40.2" y="40" width="670.2" height="380"/></clipPath><g clip-path="url(#pc)">
<path d="M40.4,399.7 L40.7,399.8 41.0,399.3 41.3,398.9 41.6,399.0 41.9,398.9 42.2,398.8 42.5,398.4 42.8,398.3 43.1,398.2 43.4,398.0 43.7,397.6 44.0,397.5 44.3,397.3 44.6,397.3 44.9,397.3 45.2,397.2 45.5,396.9 45.8,396.6 46.1,396.4 46.4,396.1 46.7,395.9 47.0,395.9 47.3,395.8 47.6,395.8 47.9,395.9 48.2,395.7 48.5,395.6 48.8,395.3 49.1,395.1 49.4,395.0 49.7,394.8 50.0,394.9 50.3,395.1 50.6,394.9 50.9,394.6 51.2,394.7 51.5,394.8 51.8,394.9 52.1,395.0 52.4,395.0 52.7,395.1 53.0,394.9 53.3,395.2 53.6,395.3 53.9,395.1 54.2,395.2 54.5,395.3 54.8,395.3 55.1,395.4 55.4,395.4 55.7,395.6 56.0,395.6 56.3,395.7 56.6,395.6 56.9,395.7 57.2,395.8 57.5,395.5 57.8,395.4 58.1,395.5 58.4,395.5 58.7,395.3 59.0,395.0 59.3,395.0 59.6,395.1 59.9,394.8 60.2,395.0 60.5,394.8 60.8,394.9 61.1,394.7 61.4,394.9 61.7,394.8 62.0,394.6 62.3,394.4 62.6,394.3 62.9,394.2 63.2,393.9 63.5,393.6 63.8,393.6 64.1,393.7 64.4,393.5 64.7,393.0 65.0,393.1 65.3,393.0 65.6,393.0 65.9,392.5 66.2,392.7 66.5,392.4 66.8,392.7 67.1,392.6 67.4,392.6 67.7,393.0 68.0,392.8 68.3,393.0 68.6,393.3 68.9,393.1 69.2,393.1 69.5,393.4 69.8,393.4 70.1,393.6 70.4,393.4 70.7,393.5 71.0,393.5 71.3,393.8 71.6,393.7 71.9,394.1 72.2,393.8 72.5,394.1 72.8,394.0 73.1,394.0 73.4,394.4 73.7,394.3 74.0,394.3 74.3,394.4 74.6,394.1 74.9,393.7 75.2,393.8 75.5,393.3 75.8,392.9 76.1,392.7 76.4,392.6 76.7,392.5 77.0,392.0 77.3,391.8 77.6,391.3 77.9,391.2 78.2,391.2 78.5,391.2 78.8,391.3 79.1,391.2 79.4,391.2 79.7,391.0 80.0,390.8 80.3,390.6 80.6,390.6 80.9,390.4 81.2,390.2 81.5,390.3 81.8,390.5 82.1,390.1 82.4,390.2 82.7,390.3 83.0,390.4 83.3,390.3 83.6,390.7 83.9,390.5 84.2,390.7 84.5,390.7 84.8,390.6 85.1,390.8 85.4,390.7 85.7,390.7 86.0,390.7 86.3,390.8 86.6,390.7 86.9,391.0 87.2,391.0 87.5,391.2 87.8,391.2 88.1,391.3 88.4,390.9 88.7,390.7 89.0,390.6 89.3,390.6 89.6,390.7 89.9,390.7 90.2,390.7 90.5,390.4 90.8,390.2 91.1,390.1 91.4,389.7 91.7,389.4 92.0,389.4 92.3,389.2 92.6,389.3 92.9,389.1 93.2,388.8 93.5,388.6 93.8,388.5 94.1,388.3 94.4,388.4 94.7,388.5 95.0,388.6 95.3,388.9 95.6,388.8 95.9,389.3 96.2,389.6 96.5,389.6 96.8,389.6 97.1,389.7 97.4,389.8 97.7,389.7 98.0,389.9 98.3,390.1 98.6,390.0 98.9,389.8 99.2,390.0 99.5,389.9 99.8,389.8 100.1,390.0 100.4,389.8 100.7,389.6 101.0,389.8 101.3,389.5 101.6,389.1 101.9,389.3 102.2,389.0 102.5,388.9 102.8,389.2 103.1,389.2 103.4,388.8 103.7,388.8 104.0,388.8 104.3,388.8 104.6,388.6 104.9,388.7 105.2,388.4 105.5,388.4 105.8,388.4 106.1,388.7 106.4,388.3 106.7,388.5 107.0,388.2 107.3,388.2 107.6,388.0 107.9,388.0 108.2,388.0 108.5,387.8 108.8,387.5 109.1,387.3 109.4,387.1 109.7,387.4 110.0,387.4 110.3,387.5 110.6,387.3 110.9,386.8 111.2,386.9 111.5,387.0 111.8,386.9 112.1,386.7 112.4,386.5 112.7,386.4 113.0,386.5 113.3,386.1 113.6,386.1 113.9,386.0 114.2,386.2 114.5,386.1 114.8,386.0 115.1,385.8 115.4,385.3 115.7,384.9 116.0,384.8 116.3,384.5 116.6,384.3 116.9,384.3 117.2,384.3 117.5,384.0 117.8,383.9 118.1,383.3 118.4,383.1 118.7,383.3 119.0,383.1 119.3,383.2 119.6,383.2 119.9,383.2 120.2,383.8 120.5,384.2 120.8,384.2 121.1,384.0 121.4,384.1 121.7,384.1 122.0,384.5 122.3,384.7 122.6,384.8 122.9,384.9 123.2,384.7 123.5,384.9 123.8,385.3 124.1,385.4 124.4,385.1 124.7,385.3 125.0,385.5 125.3,385.4 125.6,385.7 125.9,385.7 126.2,385.8 126.5,385.8 126.8,386.1 127.1,386.2 127.4,386.2 127.7,385.9 128.0,386.0 128.3,385.8 128.6,386.0 128.9,386.2 129.2,385.8 129.5,385.8 129.8,385.8 130.1,385.8 130.4,386.1 130.7,386.5 131.0,386.6 131.3,386.7 131.6,387.1 131.9,387.0 132.2,387.3 132.5,387.7 132.8,388.0 133.1,388.0 133.4,387.6 133.7,387.5 134.0,387.4 134.3,387.4 134.6,387.5 134.9,387.3 135.2,386.9 135.5,386.8 135.8,386.9 136.1,387.0 136.4,386.9 136.7,386.9 137.0,386.3 137.3,386.6 137.6,386.5 137.9,386.4 138.2,386.5 138.5,386.6 138.8,386.2 139.1,386.4 139.4,386.5 139.7,386.3 140.0,386.5 140.3,386.5 140.6,386.3 140.9,386.6 141.2,386.3 141.5,386.5 141.8,386.5 142.1,386.4 142.4,386.6 142.7,386.6 143.0,386.5 143.3,386.9 143.6,386.5 143.9,386.1 144.2,386.2 144.5,386.3 144.8,386.1 145.1,386.0 145.4,385.7 145.7,385.6 146.0,385.3 146.3,385.0 146.6,384.9 146.9,384.5 147.2,384.3 147.5,384.5 147.8,384.1 148.1,384.2 148.4,384.2 148.7,383.9 149.0,383.8 149.3,383.9 149.6,383.9 149.9,383.4 150.2,383.2 150.5,383.2 150.8,383.2 151.1,383.0 151.4,382.7 151.7,382.9 152.0,383.2 152.3,382.9 152.6,382.8 152.9,382.7 153.2,382.6 153.5,382.8 153.8,382.5 154.1,382.5 154.4,382.4 154.7,382.3 155.0,382.5 155.3,382.0 155.6,382.3 155.9,382.0 156.2,382.1 156.5,382.2 156.8,382.1 157.1,381.8 157.4,382.0 157.7,381.6 158.0,381.7 158.3,381.5 158.6,381.5 158.9,381.7 159.2,381.7 159.5,381.6 159.8,381.2 160.1,381.0 160.4,381.0 160.7,380.7 161.0,380.6 161.3,380.9 161.6,380.5 161.9,380.7 162.2,380.4 162.5,380.2 162.8,380.1 163.1,379.8 163.4,379.8 163.7,379.6 164.0,379.6 164.3,379.5 164.6,379.8 164.9,379.8 165.2,379.6 165.5,379.8 165.8,380.1 166.1,379.9 166.4,379.8 166.7,379.9 167.0,380.0 167.3,380.4 167.6,380.5 167.9,380.6 168.2,381.0 168.5,380.9 168.8,381.3 169.1,381.4 169.4,381.3 169.7,381.5 170.0,381.2 170.3,381.5 170.6,381.6 170.9,381.4 171.2,381.4 171.5,381.5 171.8,381.5 172.1,381.4 172.4,381.5 172.7,381.5 173.0,381.4 173.3,381.4 173.6,380.9 173.9,380.8 174.2,380.7 174.5,380.4 174.8,380.2 175.1,379.8 175.4,380.1 175.7,379.8 176.0,379.6 176.3,379.7 176.6,379.2 176.9,379.4 177.2,378.9 177.5,378.8 177.8,379.1 178.1,379.4 178.4,380.0 178.7,380.3 179.0,380.5 179.3,380.5 179.6,380.7 179.9,380.7 180.2,381.1 180.5,381.2 180.8,381.3 181.1,381.6 181.4,381.4 181.7,381.1 182.0,381.2 182.3,380.5 182.6,380.1 182.9,379.8 183.2,379.5 183.5,379.3 183.8,378.9 184.1,378.7 184.4,378.3 184.7,378.0 185.0,377.9 185.3,377.6 185.6,377.3 185.9,377.2 186.2,376.6 186.5,376.1 186.8,376.3 187.1,375.9 187.4,375.8 187.7,375.1 188.0,374.9 188.3,375.1 188.6,374.8 188.9,374.9 189.2,374.8 189.5,374.5 189.8,374.8 190.1,374.3 190.4,373.9 190.7,373.7 191.0,373.1 191.3,373.1 191.6,372.7 191.9,372.3 192.2,371.9 192.5,371.9 192.8,371.7 193.1,371.3 193.4,370.6 193.7,370.1 194.0,369.7 194.3,368.8 194.6,368.0 194.9,368.0 195.2,367.0 195.5,366.8 195.8,366.1 196.1,365.7 196.4,364.4 196.7,363.7 197.0,363.4 197.3,362.3 197.6,361.5 197.9,361.0 198.2,360.3 198.5,359.8 198.8,359.8 199.1,359.0 199.4,359.2 199.7,358.7 200.0,357.7 200.3,357.8 200.6,357.0 200.9,356.6 201.2,356.3 201.5,355.5 201.8,355.2 202.1,354.4 202.4,354.1 202.7,354.6 203.0,354.6 203.3,354.1 203.6,354.0 203.9,354.0 204.2,353.1 204.5,353.0 204.8,352.4 205.1,352.4 205.4,352.5 205.7,352.8 206.0,352.9 206.3,353.2 206.6,353.6 206.9,353.9 207.2,352.5 207.5,350.9 207.8,349.0 208.1,347.0 208.4,345.5 208.7,343.0 209.0,340.9 209.3,340.0 209.6,338.4 209.9,336.4 210.2,334.8 210.5,333.1 210.8,331.6 211.1,330.8 211.4,330.3 211.7,330.4 212.0,330.3 212.3,329.7 212.6,329.1 212.9,328.3 213.2,328.6 213.5,329.0 213.8,328.2 214.1,328.4 214.4,328.4 214.7,328.3 215.0,327.6 215.3,329.5 215.6,330.9 215.9,332.4 216.2,334.4 216.5,336.6 216.8,338.8 217.1,341.1 217.4,343.2 217.7,345.1 218.0,346.9 218.3,349.8 218.6,352.5 218.9,355.0 219.2,357.4 219.5,359.4 219.8,361.8 220.1,362.0 220.4,360.0 220.7,357.7 221.0,355.0 221.3,353.2 221.6,351.4 221.9,349.4 222.2,346.9 222.5,345.6 222.8,346.4 223.1,348.0 223.4,349.2 223.7,349.9 224.0,351.0 224.3,351.4 224.6,351.8 224.9,352.3 225.2,352.3 225.5,350.2 225.8,348.3 226.1,345.9 226.4,344.3 226.7,344.1 227.0,344.9 227.3,344.7 227.6,344.9 227.9,346.1 228.2,348.3 228.5,350.7 228.8,353.3 229.1,355.1 229.4,358.0 229.7,360.7 230.0,363.4 230.3,364.8 230.6,364.0 230.9,363.1 231.2,362.4 231.5,361.5 231.8,361.9 232.1,362.9 232.4,363.6 232.7,364.7 233.0,365.7 233.3,366.2 233.6,366.4 233.9,366.9 234.2,367.6 234.5,367.5 234.8,366.4 235.1,365.0 235.4,363.7 235.7,362.1 236.0,360.4 236.3,359.0 236.6,358.2 236.9,356.7 237.2,355.1 237.5,354.6 237.8,353.0 238.1,352.1 238.4,351.5 238.7,350.8 239.0,350.7 239.3,349.9 239.6,349.3 239.9,348.7 240.2,348.8 240.5,347.8 240.8,347.8 241.1,347.2 241.4,346.7 241.7,346.8 242.0,346.5 242.3,345.8 242.6,345.9 242.9,346.1 243.2,345.7 243.5,345.1 243.8,345.0 244.1,344.8 244.4,343.7 244.7,343.2 245.0,343.5 245.3,343.3 245.6,342.4 245.9,342.3 246.2,342.3 246.5,341.8 246.8,341.6 247.1,341.1 247.4,340.5 247.7,340.8 248.0,341.0 248.3,342.1 248.6,342.3 248.9,343.1 249.2,343.6 249.5,343.7 249.8,343.8 250.1,342.9 250.4,342.3 250.7,341.7 251.0,340.9 251.3,340.3 251.6,340.2 251.9,340.2 252.2,339.1 252.5,339.4 252.8,339.0 253.1,338.7 253.4,339.6 253.7,339.8 254.0,340.3 254.3,340.2 254.6,340.9 254.9,341.9 255.2,343.9 255.5,345.5 255.8,347.2 256.1,349.0 256.4,350.0 256.7,351.1 257.0,352.8 257.3,354.1 257.6,355.1 257.9,355.5 258.2,356.1 258.5,356.5 258.8,357.0 259.1,357.8 259.4,357.6 259.7,358.3 260.0,358.4 260.3,359.3 260.6,358.9 260.9,357.4 261.2,356.3 261.5,355.5 261.8,354.3 262.1,353.6 262.4,352.6 262.7,352.1 263.0,352.2 263.3,351.8 263.6,350.9 263.9,351.0 264.2,351.8 264.5,353.6 264.8,354.9 265.1,356.3 265.4,357.3 265.7,356.8 266.0,356.8 266.3,355.8 266.6,355.5 266.9,355.7 267.2,354.3 267.5,353.8 267.8,353.3 268.1,352.4 268.4,351.6 268.7,350.0 269.0,349.3 269.3,349.0 269.6,348.5 269.9,348.1 270.2,348.0 270.5,347.1 270.8,346.4 271.1,346.5 271.4,346.8 271.7,346.8 272.0,346.5 272.3,345.8 272.6,346.0 272.9,345.1 273.2,344.7 273.5,344.8 273.8,344.8 274.1,344.0 274.4,344.0 274.7,342.9 275.0,342.7 275.3,342.4 275.6,342.6 275.9,342.7 276.2,342.7 276.5,343.2 276.8,343.6 277.1,343.6 277.4,343.7 277.7,342.9 278.0,342.9 278.3,342.7 278.6,342.3 278.9,342.6 279.2,342.2 279.5,343.3 279.8,344.5 280.1,345.2 280.4,345.9 280.7,345.9 281.0,346.0 281.3,346.0 281.6,346.1 281.9,346.7 282.2,346.9 282.5,347.0 282.8,346.4 283.1,346.2 283.4,345.5 283.7,345.2 284.0,344.5 284.3,344.7 284.6,344.9 284.9,344.5 285.2,344.0 285.5,343.3 285.8,342.9 286.1,342.6 286.4,342.2 286.7,341.7 287.0,341.2 287.3,341.4 287.6,341.5 287.9,341.2 288.2,340.7 288.5,339.6 288.8,339.2 289.1,339.4 289.4,339.5 289.7,338.9 290.0,338.4 290.3,338.1 290.6,337.3 290.9,337.3 291.2,336.7 291.5,336.8 291.8,336.2 292.1,335.9 292.4,335.5 292.7,335.1 293.0,334.6 293.3,334.8 293.6,334.4 293.9,333.7 294.2,333.3 294.5,334.0 294.8,334.3 295.1,334.5 295.4,335.1 295.7,334.6 296.0,335.1 296.3,335.5 296.6,335.6 296.9,336.4 297.2,336.4 297.5,335.6 297.8,335.4 298.1,335.3 298.4,335.1 298.7,334.4 299.0,334.5 299.3,333.9 299.6,333.3 299.9,333.5 300.2,333.4 300.5,333.0 300.8,332.8 301.1,333.2 301.4,333.1 301.7,332.4 302.0,332.6 302.3,332.2 302.6,331.7 302.9,331.6 303.2,331.7 303.5,331.7 303.8,331.3 304.1,331.1 304.4,330.6 304.7,330.3 305.0,330.8 305.3,330.7 305.6,331.8 305.9,331.7 306.2,332.1 306.5,332.6 306.8,332.3 307.1,333.0 307.4,332.9 307.7,332.6 308.0,332.8 308.3,332.5 308.6,332.8 308.9,332.3 309.2,331.5 309.5,330.9 309.8,330.5 310.1,330.7 310.4,331.0 310.7,330.1 311.0,330.0 311.3,329.9 311.6,330.3 311.9,330.6 312.2,330.8 312.5,330.7 312.8,330.6 313.1,330.2 313.4,330.5 313.7,330.2 314.0,330.3 314.3,331.1 314.6,331.1 314.9,331.4 315.2,331.2 315.5,330.8 315.8,330.8 316.1,330.8 316.4,330.3 316.7,330.8 317.0,331.1 317.3,330.2 317.6,329.8 317.9,330.3 318.2,330.3 318.5,329.7 318.8,330.0 319.1,329.8 319.4,330.6 319.7,330.7 320.0,330.7 320.3,330.4 320.6,330.6 320.9,330.9 321.2,331.0 321.5,331.3 321.8,331.8 322.1,333.0 322.4,334.1 322.7,334.9 323.0,335.3 323.3,335.7 323.6,334.9 323.9,334.5 324.2,334.9 324.5,334.2 324.8,333.9 325.1,334.6 325.4,334.1 325.7,333.8 326.0,333.9 326.3,334.4 326.6,333.6 326.9,334.2 327.2,333.7 327.5,334.1 327.8,334.3 328.1,334.1 328.4,335.1 328.7,334.8 329.0,335.5 329.3,336.1 329.6,335.9 329.9,336.6 330.2,336.0 330.5,336.0 330.8,336.1 331.1,335.5 331.4,335.9 331.7,335.5 332.0,335.6 332.3,334.8 332.6,334.0 332.9,334.5 333.2,333.7 333.5,333.5 333.8,332.8 334.1,333.0 334.4,333.1 334.7,332.8 335.0,332.4 335.3,332.7 335.6,333.3 335.9,332.8 336.2,332.7 336.5,333.1 336.8,333.1 337.1,333.0 337.4,332.5 337.7,332.3 338.0,331.1 338.3,331.2 338.6,329.9 338.9,329.2 339.2,328.6 339.5,329.0 339.8,328.9 340.1,329.2 340.4,329.3 340.7,329.2 341.0,328.6 341.3,327.9 341.6,328.5 341.9,328.7 342.2,328.3 342.5,328.6 342.8,328.2 343.1,328.2 343.4,329.1 343.7,329.7 344.0,330.3 344.3,330.3 344.6,329.5 344.9,329.8 345.2,330.2 345.5,330.0 345.8,329.6 346.1,329.2 346.4,328.6 346.7,329.0 347.0,329.9 347.3,329.4 347.6,330.2 347.9,330.9 348.2,330.6 348.5,331.3 348.8,330.9 349.1,330.9 349.4,331.3 349.7,331.9 350.0,331.9 350.3,331.3 350.6,332.2 350.9,332.2 351.2,332.5 351.5,332.0 351.8,332.0 352.1,331.7 352.4,331.8 352.7,332.1 353.0,332.3 353.3,332.8 353.6,333.5 353.9,333.5 354.2,334.3 354.5,334.6 354.8,334.6 355.1,334.5 355.4,335.6 355.7,336.0 356.0,335.5 356.3,335.6 356.6,335.1 356.9,334.7 357.2,334.7 357.5,333.9 357.8,333.4 358.1,333.3 358.4,333.5 358.7,332.4 359.0,332.6 359.3,332.3 359.6,331.4 359.9,331.3 360.2,331.1 360.5,330.9 360.8,330.3 361.1,329.6 361.4,329.4 361.7,329.0 362.0,329.0 362.3,328.9 362.6,328.4 362.9,328.2 363.2,328.3 363.5,328.3 363.8,328.4 364.1,328.6 364.4,327.9 364.7,327.7 365.0,327.2 365.3,326.7 365.6,326.2 365.9,326.8 366.2,326.9 366.5,326.3 366.8,324.8 367.1,323.6 367.4,322.6 367.7,322.0 368.0,321.5 368.3,320.3 368.6,320.3 368.9,320.9 369.2,321.4 369.5,320.8 369.8,320.3 370.1,321.2 370.4,321.0 370.7,320.9 371.0,320.7 371.3,320.6 371.6,320.3 371.9,320.0 372.2,319.6 372.5,319.7 372.8,320.0 373.1,319.2 373.4,318.9 373.7,318.7 374.0,318.8 374.3,318.4 374.6,318.3 374.9,316.9 375.2,316.9 375.5,315.9 375.8,315.5 376.1,315.1 376.4,314.7 376.7,314.0 377.0,313.4 377.3,312.9 377.6,314.0 377.9,314.4 378.2,313.8 378.5,313.0 378.8,313.6 379.1,313.4 379.4,313.3 379.7,313.7 380.0,313.3 380.3,313.3 380.6,314.3 380.9,314.7 381.2,314.3 381.5,313.0 381.8,312.7 382.1,312.0 382.4,310.7 382.7,310.6 383.0,309.4 383.3,308.6 383.6,309.2 383.9,308.4 384.2,308.4 384.5,308.6 384.8,308.5 385.1,307.6 385.4,308.2 385.7,307.5 386.0,308.1 386.3,308.9 386.6,308.9 386.9,308.6 387.2,309.6 387.5,309.8 387.8,310.0 388.1,310.5 388.4,311.0 388.7,310.9 389.0,311.5 389.3,311.4 389.6,311.3 389.9,311.4 390.2,311.7 390.5,311.7 390.8,312.8 391.1,313.2 391.4,314.4 391.7,313.9 392.0,315.0 392.3,314.8 392.6,315.2 392.9,315.3 393.2,315.9 393.5,315.6 393.8,315.0 394.1,314.2 394.4,313.5 394.7,313.5 395.0,314.2 395.3,313.8 395.6,314.0 395.9,314.4 396.2,313.4 396.5,313.3 396.8,313.4 397.1,313.2 397.4,313.3 397.7,313.8 398.0,313.3 398.3,314.0 398.6,313.8 398.9,314.2 399.2,313.8 399.5,313.4 399.8,311.4 400.1,310.1 400.4,308.7 400.7,308.7 401.0,308.0 401.3,308.5 401.6,309.8 401.9,310.1 402.2,310.6 402.5,310.6 402.8,311.3 403.1,311.6 403.4,311.3 403.7,311.2 404.0,310.5 404.3,310.2 404.6,310.4 404.9,311.4 405.2,312.2 405.5,312.5 405.8,312.9 406.1,312.9 406.4,313.6 406.7,314.9 407.0,315.8 407.3,317.7 407.6,318.3 407.9,317.0 408.2,314.4 408.5,313.2 408.8,311.7 409.1,310.3 409.4,309.1 409.7,307.9 410.0,307.9 410.3,307.5 410.6,306.6 410.9,305.7 411.2,304.3 411.5,303.8 411.8,303.3 412.1,302.8 412.4,302.3 412.7,302.5 413.0,302.8 413.3,302.7 413.6,304.1 413.9,303.6 414.2,305.1 414.5,305.5 414.8,306.1 415.1,305.8 415.4,305.3 415.7,304.8 416.0,303.1 416.3,301.7 416.6,301.6 416.9,300.3 417.2,299.1 417.5,298.7 417.8,297.6 418.1,296.7 418.4,296.4 418.7,296.7 419.0,298.4 419.3,299.1 419.6,299.8 419.9,299.9 420.2,301.1 420.5,302.2 420.8,302.7 421.1,301.5 421.4,301.5 421.7,301.3 422.0,301.9 422.3,301.4 422.6,300.2 422.9,298.4 423.2,297.9 423.5,296.3 423.8,295.5 424.1,293.8 424.4,292.9 424.7,291.0 425.0,290.3 425.3,289.7 425.6,288.4 425.9,288.3 426.2,287.0 426.5,287.0 426.8,288.2 427.1,289.0 427.4,289.3 427.7,289.9 428.0,291.0 428.3,292.4 428.6,293.1 428.9,292.9 429.2,293.0 429.5,293.1 429.8,292.9 430.1,293.6 430.4,293.8 430.7,293.7 431.0,293.9 431.3,296.8 431.6,297.5 431.9,298.8 432.2,300.6 432.5,302.9 432.8,303.9 433.1,304.3 433.4,303.9 433.7,304.9 434.0,304.3 434.3,303.8 434.6,303.2 434.9,303.4 435.2,303.3 435.5,303.0 435.8,303.2 436.1,302.7 436.4,301.9 436.7,300.0 437.0,299.8 437.3,299.2 437.6,298.2 437.9,296.0 438.2,297.1 438.5,297.6 438.8,298.2 439.1,298.4 439.4,299.6 439.7,300.5 440.0,301.2 440.3,301.7 440.6,303.5 440.9,304.1 441.2,306.0 441.5,306.7 441.8,307.4 442.1,308.0 442.4,309.4 442.7,310.8 443.0,311.0 443.3,311.7 443.6,311.3 443.9,311.2 444.2,311.1 444.5,310.6 444.8,309.4 445.1,308.2 445.4,308.6 445.7,307.9 446.0,308.2 446.3,308.5 446.6,307.4 446.9,306.9 447.2,307.0 447.5,307.5 447.8,308.2 448.1,309.3 448.4,309.1 448.7,310.0 449.0,311.2 449.3,311.4 449.6,312.2 449.9,312.3 450.2,313.3 450.5,313.3 450.8,313.5 451.1,314.0 451.4,314.0 451.7,314.8 452.0,314.8 452.3,313.9 452.6,313.5 452.9,312.9 453.2,312.3 453.5,311.9 453.8,312.8 454.1,313.9 454.4,315.7 454.7,317.7 455.0,318.5 455.3,320.4 455.6,321.3 455.9,322.0 456.2,322.5 456.5,323.4 456.8,324.9 457.1,325.1 457.4,324.9 457.7,324.2 458.0,323.8 458.3,323.3 458.6,321.9 458.9,321.6 459.2,321.4 459.5,320.9 459.8,319.6 460.1,319.3 460.4,318.4 460.7,317.7 461.0,317.5 461.3,317.0 461.6,315.7 461.9,315.9 462.2,315.4 462.5,315.5 462.8,316.5 463.1,317.1 463.4,316.6 463.7,317.1 464.0,316.4 464.3,316.2 464.6,315.7 464.9,314.9 465.2,314.8 465.5,314.7 465.8,314.9 466.1,313.9 466.4,314.7 466.7,315.1 467.0,316.1 467.3,317.1 467.6,318.9 467.9,320.1 468.2,319.9 468.5,320.6 468.8,321.2 469.1,321.8 469.4,323.0 469.7,323.9 470.0,323.3 470.3,323.8 470.6,324.4 470.9,325.1 471.2,325.5 471.5,326.3 471.8,326.0 472.1,326.3 472.4,326.4 472.7,325.3 473.0,324.6 473.3,324.6 473.6,323.8 473.9,323.6 474.2,322.8 474.5,322.4 474.8,322.2 475.1,322.6 475.4,322.4 475.7,322.1 476.0,321.8 476.3,321.2 476.6,321.9 476.9,321.8 477.2,321.8 477.5,321.1 477.8,321.1 478.1,320.9 478.4,319.7 478.7,317.7 479.0,314.8 479.3,314.1 479.6,312.3 479.9,311.4 480.2,309.8 480.5,308.1 480.8,307.9 481.1,306.8 481.4,305.9 481.7,305.1 482.0,304.0 482.3,302.6 482.6,301.3 482.9,300.4 483.2,299.2 483.5,298.1 483.8,298.1 484.1,296.8 484.4,296.3 484.7,295.6 485.0,294.4 485.3,294.2 485.6,293.2 485.9,291.9 486.2,292.6 486.5,292.4 486.8,292.1 487.1,292.0 487.4,290.8 487.7,289.9 488.0,289.5 488.3,289.4 488.6,288.0 488.9,287.9 489.2,287.9 489.5,286.4 489.8,285.1 490.1,284.6 490.4,285.0 490.7,284.2 491.0,284.9 491.3,284.3 491.6,285.7 491.9,285.6 492.2,286.9 492.5,286.6 492.8,286.7 493.1,288.2 493.4,288.6 493.7,290.4 494.0,291.4 494.3,291.3 494.6,292.1 494.9,293.2 495.2,294.5 495.5,294.7 495.8,295.8 496.1,295.5 496.4,294.8 496.7,294.0 497.0,293.0 497.3,292.1 497.6,291.2 497.9,291.4 498.2,291.8 498.5,291.7 498.8,292.6 499.1,294.1 499.4,295.0 499.7,294.9 500.0,295.9 500.3,297.0 500.6,298.7 500.9,299.1 501.2,300.8 501.5,302.0 501.8,300.3 502.1,299.6 502.4,298.8 502.7,298.1 503.0,297.7 503.3,295.9 503.6,295.4 503.9,293.2 504.2,292.9 504.5,291.2 504.8,289.4 505.1,289.3 505.4,289.3 505.7,288.4 506.0,287.7 506.3,286.4 506.6,285.1 506.9,285.5 507.2,286.1 507.5,285.5 507.8,285.5 508.1,285.4 508.4,285.4 508.7,286.6 509.0,285.7 509.3,285.4 509.6,285.6 509.9,286.9 510.2,287.1 510.5,287.7 510.8,287.9 511.1,288.4 511.4,288.2 511.7,287.2 512.0,286.9 512.3,287.7 512.6,287.9 512.9,288.6 513.2,289.1 513.5,290.8 513.8,291.8 514.1,292.1 514.4,292.0 514.7,291.3 515.0,289.6 515.3,288.9 515.6,287.5 515.9,287.0 516.2,286.7 516.5,285.1 516.8,284.3 517.1,283.4 517.4,282.6 517.7,280.7 518.0,278.8 518.3,278.5 518.6,277.0 518.9,275.2 519.2,274.5 519.5,273.9 519.8,273.2 520.1,271.0 520.4,269.8 520.7,269.1 521.0,268.6 521.3,268.0 521.6,268.9 521.9,268.6 522.2,267.0 522.5,267.2 522.8,267.8 523.1,269.9 523.4,270.0 523.7,271.2 524.0,271.0 524.3,271.2 524.6,273.3 524.9,273.0 525.2,274.1 525.5,275.1 525.8,275.6 526.1,277.1 526.4,277.9 526.7,276.7 527.0,276.2 527.3,276.2 527.6,276.1 527.9,276.2 528.2,276.5 528.5,276.2 528.8,277.7 529.1,277.7 529.4,277.3 529.7,278.2 530.0,279.1 530.3,279.2 530.6,280.8 530.9,281.4 531.2,281.0 531.5,280.0 531.8,279.0 532.1,278.5 532.4,278.7 532.7,278.6 533.0,278.3 533.3,276.7 533.6,277.8 533.9,278.8 534.2,279.6 534.5,280.0 534.8,281.2 535.1,282.3 535.4,282.5 535.7,282.7 536.0,281.9 536.3,281.6 536.6,280.7 536.9,280.1 537.2,278.5 537.5,277.9 537.8,276.5 538.1,276.1 538.4,274.4 538.7,274.2 539.0,274.0 539.3,273.9 539.6,272.5 539.9,272.3 540.2,270.7 540.5,269.2 540.8,269.3 541.1,268.6 541.4,268.0 541.7,267.8 542.0,267.3 542.3,266.5 542.6,264.3 542.9,263.2 543.2,262.1 543.5,261.0 543.8,259.7 544.1,258.3 544.4,258.4 544.7,256.5 545.0,256.9 545.3,255.6 545.6,254.7 545.9,255.0 546.2,254.4 546.5,254.4 546.8,255.7 547.1,257.3 547.4,259.6 547.7,261.4 548.0,264.9 548.3,266.7 548.6,267.7 548.9,265.5 549.2,263.8 549.5,262.2 549.8,260.4 550.1,257.8 550.4,255.6 550.7,254.3 551.0,251.5 551.3,249.7 551.6,246.3 551.9,244.6 552.2,242.3 552.5,240.1 552.8,237.8 553.1,238.1 553.4,239.2 553.7,240.4 554.0,242.3 554.3,241.9 554.6,243.6 554.9,244.7 555.2,245.7 555.5,248.1 555.8,248.7 556.1,249.9 556.4,251.2 556.7,251.8 557.0,253.1 557.3,253.7 557.6,255.7 557.9,257.3 558.2,259.3 558.5,260.6 558.8,260.5 559.1,260.6 559.4,257.7 559.7,255.6 560.0,254.7 560.3,253.8 560.6,252.5 560.9,250.0 561.2,248.9 561.5,248.0 561.8,246.6 562.1,246.6 562.4,246.5 562.7,244.7 563.0,244.4 563.3,244.6 563.6,244.7 563.9,244.1 564.2,244.4 564.5,243.7 564.8,242.3 565.1,241.9 565.4,240.6 565.7,239.4 566.0,238.2 566.3,237.5 566.6,236.6 566.9,235.4 567.2,235.2 567.5,233.9 567.8,233.7 568.1,233.6 568.4,232.3 568.7,231.6 569.0,233.5 569.3,232.9 569.6,233.0 569.9,232.9 570.2,234.1 570.5,234.9 570.8,236.6 571.1,234.1 571.4,232.7 571.7,232.3 572.0,229.4 572.3,228.4 572.6,226.6 572.9,226.6 573.2,224.8 573.5,222.9 573.8,221.2 574.1,219.7 574.4,219.3 574.7,216.7 575.0,214.4 575.3,213.1 575.6,211.2 575.9,211.4 576.2,210.8 576.5,209.1 576.8,206.8 577.1,203.7 577.4,203.0 577.7,200.3 578.0,198.8 578.3,196.9 578.6,191.9 578.9,189.0 579.2,184.3 579.5,180.1 579.8,175.4 580.1,173.0 580.4,169.5 580.7,164.7 581.0,164.6 581.3,163.9 581.6,164.1 581.9,164.9 582.2,165.8 582.5,166.9 582.8,164.3 583.1,163.5 583.4,163.4 583.7,162.4 584.0,160.1 584.3,159.5 584.6,158.6 584.9,156.0 585.2,153.3 585.5,152.3 585.8,153.3 586.1,155.1 586.4,154.6 586.7,156.5 587.0,159.9 587.3,162.9 587.6,166.3 587.9,166.3 588.2,168.7 588.5,169.9 588.8,169.1 589.1,168.4 589.4,167.7 589.7,169.1 590.0,168.2 590.3,166.4 590.6,165.0 590.9,166.3 591.2,166.4 591.5,170.3 591.8,171.5 592.1,174.0 592.4,175.9 592.7,182.1 593.0,186.4 593.3,191.8 593.6,190.5 593.9,189.1 594.2,189.3 594.5,190.2 594.8,187.1 595.1,187.8 595.4,185.5 595.7,182.7 596.0,179.9 596.3,178.5 596.6,176.0 596.9,175.0 597.2,173.4 597.5,170.6 597.8,170.6 598.1,168.6 598.4,168.3 598.7,168.6 599.0,171.1 599.3,173.1 599.6,175.1 599.9,175.3 600.2,178.7 600.5,179.8 600.8,180.1 601.1,183.8 601.4,184.7 601.7,185.4 602.0,183.4 602.3,181.7 602.6,181.9 602.9,182.0 603.2,182.4 603.5,182.3 603.8,181.3 604.1,181.9 604.4,181.3 604.7,181.3 605.0,184.0 605.3,185.6 605.6,188.1 605.9,189.1 606.2,190.7 606.5,191.3 606.8,193.2 607.1,192.5 607.4,193.8 607.7,194.7 608.0,196.8 608.3,195.0 608.6,194.2 608.9,193.9 609.2,191.9 609.5,191.9 609.8,189.2 610.1,187.9 610.4,187.1 610.7,187.0 611.0,186.4 611.3,188.3 611.6,188.8 611.9,189.7 612.2,189.1 612.5,188.1 612.8,189.1 613.1,189.3 613.4,187.3 613.7,184.8 614.0,183.6 614.3,183.4 614.6,182.4 614.9,180.6 615.2,179.6 615.5,176.4 615.8,174.7 616.1,172.9 616.4,172.9 616.7,172.4 617.0,170.2 617.3,171.5 617.6,171.0 617.9,170.9 618.2,171.3 618.5,170.5 618.8,168.4 619.1,165.7 619.4,162.9 619.7,162.2 620.0,164.0 620.3,164.0 620.6,166.5 620.9,166.3 621.2,168.3 621.5,171.3 621.8,171.2 622.1,174.1 622.4,174.3 622.7,173.6 623.0,170.9 623.3,168.7 623.6,167.8 623.9,167.8 624.2,170.0 624.5,170.7 624.8,171.4 625.1,171.9 625.4,173.5 625.7,176.3 626.0,179.1 626.3,180.0 626.6,182.5 626.9,185.0 627.2,187.7 627.5,190.2 627.8,193.5 628.1,195.0 628.4,195.7 628.7,196.2 629.0,197.6 629.3,195.9 629.6,194.5 629.9,192.5 630.2,191.8 630.5,188.9 630.8,187.4 631.1,187.0 631.4,184.8 631.7,184.6 632.0,182.5 632.3,180.3 632.6,180.2 632.9,180.0 633.2,178.8 633.5,177.8 633.8,179.3 634.1,178.1 634.4,177.8 634.7,176.3 635.0,175.5 635.3,173.9 635.6,172.3 635.9,173.2 636.2,172.6 636.5,170.7 636.8,170.0 637.1,169.8 637.4,167.8 637.7,168.3 638.0,169.4 638.3,168.6 638.6,167.6 638.9,166.8 639.2,168.1 639.5,169.1 639.8,170.3 640.1,171.7 640.4,170.7 640.7,169.1 641.0,170.0 641.3,168.4 641.6,168.2 641.9,166.5 642.2,166.1 642.5,164.2 642.8,163.2 643.1,161.7 643.4,161.5 643.7,160.0 644.0,159.5 644.3,156.7 644.6,154.2 644.9,154.0 645.2,155.0 645.5,155.9 645.8,157.1 646.1,157.0 646.4,158.9 646.7,157.2 647.0,153.2 647.3,152.0 647.6,150.8 647.9,147.6 648.2,147.1 648.5,143.9 648.8,144.0 649.1,141.4 649.4,140.0 649.7,134.5 650.0,129.7 650.3,122.9 650.6,121.9 650.9,120.4 651.2,115.0 651.5,113.0 651.8,109.5 652.1,109.5 652.4,108.3 652.7,107.5 653.0,105.9 653.3,103.0 653.6,102.0 653.9,98.8 654.2,99.6 654.5,102.7 654.8,105.7 655.1,106.1 655.4,108.1 655.7,111.7 656.0,116.7 656.3,120.2 656.6,116.8 656.9,111.3 657.2,106.5 657.5,102.2 657.8,99.3 658.1,96.7 658.4,93.3 658.7,94.1 659.0,93.4 659.3,97.1 659.6,101.4 659.9,105.4 660.2,109.4 660.5,112.4 660.8,108.1 661.1,105.5 661.4,100.8 661.7,95.1 662.0,93.6 662.3,94.6 662.6,93.1 662.9,92.3 663.2,95.2 663.5,99.8 663.8,104.9 664.1,108.0 664.4,105.5 664.7,100.5 665.0,94.1 665.3,91.7 665.6,88.7 665.9,87.9 666.2,86.4 666.5,87.5 666.8,89.1 667.1,90.7 667.4,91.9 667.7,92.4 668.0,95.6 668.3,99.8 668.6,103.7 668.9,105.8 669.2,111.6 669.5,115.7 669.8,116.8 670.1,120.2 670.4,118.9 670.7,117.6 671.0,115.2 671.3,113.8 671.6,111.1 671.9,110.2 672.2,106.6 672.5,104.3 672.8,104.7 673.1,105.1 673.4,105.4 673.7,108.6 674.0,110.8 674.3,113.5 674.6,114.3 674.9,117.1 675.2,120.2 675.5,122.5 675.8,122.4 676.1,119.7 676.4,116.6 676.7,116.1 677.0,115.4 677.3,114.2 677.6,109.5 677.9,108.7 678.2,105.6 678.5,105.1 678.8,106.8 679.1,107.9 679.4,107.8 679.7,107.5 680.0,108.5 680.3,108.9 680.6,109.4 680.9,110.3 681.2,114.3 681.5,116.8 681.8,115.2 682.1,115.2 682.4,114.0 682.7,112.5 683.0,111.5 683.3,114.2 683.6,117.8 683.9,120.1 684.2,121.4 684.5,118.8 684.8,118.9 685.1,119.8 685.4,121.4 685.7,125.1 686.0,127.6 686.3,130.4 686.6,133.1 686.9,135.3 687.2,137.1 687.5,136.5 687.8,138.5 688.1,141.5 688.4,140.8 688.7,142.1 689.0,142.6 689.3,145.0 689.6,145.1 689.9,144.5 690.2,145.5 690.5,147.3 690.8,148.2 691.1,147.3 691.4,150.0 691.7,151.5 692.0,153.3 692.3,157.7 692.6,161.5 692.9,164.1 693.2,163.8 693.5,164.1 693.8,167.3 694.1,168.7 694.4,167.5 694.7,165.4 695.0,161.2 695.3,158.7 695.6,156.7 695.9,152.3 696.2,148.8 696.5,146.3 696.8,141.6 697.1,138.7 697.4,137.6 697.7,141.5 698.0,143.0 698.3,145.7 698.6,150.2 698.9,154.4 699.2,157.6 699.5,163.9 699.8,164.7 700.1,161.4 700.4,157.5 700.7,153.6 701.0,152.8 701.3,151.6 701.6,150.3 701.9,151.6 702.2,149.7 702.5,149.8 702.8,148.7 703.1,147.8 703.4,150.5 703.7,151.3 704.0,153.5 704.3,153.8 704.6,155.6 704.9,156.4 705.2,160.4 705.5,160.7 705.8,165.5 706.1,169.1 706.4,169.7 706.7,171.7 707.0,173.3 707.3,174.7 707.6,177.9 707.9,180.7 708.2,185.0 708.5,188.4 708.8,191.2 709.1,195.5 709.4,202.5 709.6,209.9" fill="none" stroke="#c80000" stroke-width="4.5" stroke-linejoin="round" stroke-linecap="butt"/>
<path d="M40.4,399.9 L40.7,399.8 41.0,399.7 41.3,399.7 41.6,399.7 41.9,399.3 42.2,399.1 42.5,399.4 42.8,399.2 43.1,399.0 43.4,399.4 43.7,399.2 44.0,399.3 44.3,399.1 44.6,399.0 44.9,398.7 45.2,398.7 45.5,398.9 45.8,398.7 46.1,398.8 46.4,398.8 46.7,398.4 47.0,398.6 47.3,398.6 47.6,398.4 47.9,398.2 48.2,398.5 48.5,398.5 48.8,398.6 49.1,398.7 49.4,398.7 49.7,398.8 50.0,398.5 50.3,398.6 50.6,398.4 50.9,398.6 51.2,398.7 51.5,398.3 51.8,398.1 52.1,398.1 52.4,398.6 52.7,398.5 53.0,398.6 53.3,398.4 53.6,398.5 53.9,398.5 54.2,398.5 54.5,398.6 54.8,398.7 55.1,399.0 55.4,399.0 55.7,399.1 56.0,399.2 56.3,399.3 56.6,399.2 56.9,399.0 57.2,399.4 57.5,399.7 57.8,399.9 58.1,399.9 58.4,400.0 58.7,399.9 59.0,400.2 59.3,400.3 59.6,400.0 59.9,399.7 60.2,400.0 60.5,400.2 60.8,399.7 61.1,399.8 61.4,399.6 61.7,399.3 62.0,399.2 62.3,399.3 62.6,399.5 62.9,399.0 63.2,399.0 63.5,398.7 63.8,398.8 64.1,398.7 64.4,398.8 64.7,399.0 65.0,398.8 65.3,399.0 65.6,398.7 65.9,398.5 66.2,398.6 66.5,398.4 66.8,398.4 67.1,398.5 67.4,398.7 67.7,398.6 68.0,398.4 68.3,398.8 68.6,398.7 68.9,399.2 69.2,399.4 69.5,399.4 69.8,399.4 70.1,399.6 70.4,399.8 70.7,400.0 71.0,400.1 71.3,400.3 71.6,400.7 71.9,400.7 72.2,400.7 72.5,401.0 72.8,400.9 73.1,400.8 73.4,401.2 73.7,401.0 74.0,401.0 74.3,400.6 74.6,400.7 74.9,400.8 75.2,400.5 75.5,400.7 75.8,400.7 76.1,400.4 76.4,400.6 76.7,400.6 77.0,400.7 77.3,400.4 77.6,400.5 77.9,400.5 78.2,400.1 78.5,399.8 78.8,400.0 79.1,400.3 79.4,399.9 79.7,399.9 80.0,399.9 80.3,399.7 80.6,399.5 80.9,399.4 81.2,399.4 81.5,399.4 81.8,399.2 82.1,399.2 82.4,399.3 82.7,399.0 83.0,399.1 83.3,399.2 83.6,399.0 83.9,398.8 84.2,399.1 84.5,398.8 84.8,398.7 85.1,398.7 85.4,398.9 85.7,398.6 86.0,398.5 86.3,398.5 86.6,398.7 86.9,398.6 87.2,398.8 87.5,398.4 87.8,398.3 88.1,398.5 88.4,398.6 88.7,398.4 89.0,398.2 89.3,398.0 89.6,398.1 89.9,397.9 90.2,398.2 90.5,398.3 90.8,398.0 91.1,397.8 91.4,398.1 91.7,398.0 92.0,398.1 92.3,397.8 92.6,397.6 92.9,397.5 93.2,397.7 93.5,397.5 93.8,397.4 94.1,397.4 94.4,397.4 94.7,397.5 95.0,397.9 95.3,397.7 95.6,397.5 95.9,398.1 96.2,398.4 96.5,398.6 96.8,398.5 97.1,398.7 97.4,398.9 97.7,398.6 98.0,398.9 98.3,399.1 98.6,399.1 98.9,399.1 99.2,399.0 99.5,399.0 99.8,399.0 100.1,398.9 100.4,399.1 100.7,399.0 101.0,399.3 101.3,398.9 101.6,399.2 101.9,399.3 102.2,399.4 102.5,399.5 102.8,399.5 103.1,399.3 103.4,398.8 103.7,399.0 104.0,398.8 104.3,398.7 104.6,398.9 104.9,398.9 105.2,398.8 105.5,399.1 105.8,399.1 106.1,398.9 106.4,398.8 106.7,399.1 107.0,399.0 107.3,399.2 107.6,399.0 107.9,398.9 108.2,399.0 108.5,399.3 108.8,399.0 109.1,399.3 109.4,399.5 109.7,399.5 110.0,399.6 110.3,399.1 110.6,399.3 110.9,399.5 111.2,399.1 111.5,399.0 111.8,399.0 112.1,399.2 112.4,399.2 112.7,399.2 113.0,399.4 113.3,399.0 113.6,398.9 113.9,398.8 114.2,398.8 114.5,398.8 114.8,399.3 115.1,399.5 115.4,399.1 115.7,399.2 116.0,399.1 116.3,399.1 116.6,399.0 116.9,399.2 117.2,399.2 117.5,399.1 117.8,398.9 118.1,398.9 118.4,398.7 118.7,398.9 119.0,399.1 119.3,399.0 119.6,398.7 119.9,398.6 120.2,398.7 120.5,398.9 120.8,399.0 121.1,398.9 121.4,399.0 121.7,399.0 122.0,398.9 122.3,398.8 122.6,398.8 122.9,398.9 123.2,398.8 123.5,398.9 123.8,398.8 124.1,398.6 124.4,398.7 124.7,398.8 125.0,398.5 125.3,398.5 125.6,398.5 125.9,398.8 126.2,399.0 126.5,398.7 126.8,398.9 127.1,399.0 127.4,398.7 127.7,398.8 128.0,398.6 128.3,399.0 128.6,399.1 128.9,399.3 129.2,399.4 129.5,399.4 129.8,399.5 130.1,399.4 130.4,399.2 130.7,399.4 131.0,399.1 131.3,399.1 131.6,399.5 131.9,399.3 132.2,399.2 132.5,399.2 132.8,399.7 133.1,399.6 133.4,399.4 133.7,399.9 134.0,399.7 134.3,400.0 134.6,400.0 134.9,400.1 135.2,400.2 135.5,400.0 135.8,400.0 136.1,399.6 136.4,399.7 136.7,399.7 137.0,399.7 137.3,399.4 137.6,399.6 137.9,399.7 138.2,399.3 138.5,399.2 138.8,399.3 139.1,399.5 139.4,399.2 139.7,399.0 140.0,398.9 140.3,399.1 140.6,399.2 140.9,399.1 141.2,399.0 141.5,398.9 141.8,398.8 142.1,398.8 142.4,398.6 142.7,398.7 143.0,399.0 143.3,398.8 143.6,398.9 143.9,398.6 144.2,398.7 144.5,398.8 144.8,398.8 145.1,398.7 145.4,398.7 145.7,398.7 146.0,398.9 146.3,398.6 146.6,398.4 146.9,398.7 147.2,399.0 147.5,398.9 147.8,398.8 148.1,398.9 148.4,398.6 148.7,398.6 149.0,398.5 149.3,398.7 149.6,398.7 149.9,398.6 150.2,398.8 150.5,399.0 150.8,398.7 151.1,398.7 151.4,398.5 151.7,398.6 152.0,398.4 152.3,398.1 152.6,397.8 152.9,397.5 153.2,397.6 153.5,397.5 153.8,397.3 154.1,397.3 154.4,397.2 154.7,397.3 155.0,397.0 155.3,397.3 155.6,397.1 155.9,397.0 156.2,397.0 156.5,397.1 156.8,397.2 157.1,397.0 157.4,396.9 157.7,397.0 158.0,397.1 158.3,396.9 158.6,396.9 158.9,397.1 159.2,396.9 159.5,396.6 159.8,396.5 160.1,396.7 160.4,396.7 160.7,396.9 161.0,396.9 161.3,396.6 161.6,396.3 161.9,396.3 162.2,396.2 162.5,396.4 162.8,396.6 163.1,396.7 163.4,396.4 163.7,396.6 164.0,396.3 164.3,396.3 164.6,396.4 164.9,396.1 165.2,395.9 165.5,396.3 165.8,396.1 166.1,396.0 166.4,396.1 166.7,396.2 167.0,395.9 167.3,395.9 167.6,395.9 167.9,396.0 168.2,395.9 168.5,396.0 168.8,396.3 169.1,396.1 169.4,396.1 169.7,395.8 170.0,395.7 170.3,395.9 170.6,395.7 170.9,396.0 171.2,396.2 171.5,395.8 171.8,396.1 172.1,395.8 172.4,395.8 172.7,395.7 173.0,395.3 173.3,395.3 173.6,395.1 173.9,395.1 174.2,394.7 174.5,394.7 174.8,394.8 175.1,394.5 175.4,394.3 175.7,393.8 176.0,393.7 176.3,393.6 176.6,393.6 176.9,393.6 177.2,393.4 177.5,393.0 177.8,393.0 178.1,393.0 178.4,392.6 178.7,392.8 179.0,392.7 179.3,392.2 179.6,392.4 179.9,392.0 180.2,392.0 180.5,392.2 180.8,392.3 181.1,392.3 181.4,392.4 181.7,392.3 182.0,392.2 182.3,392.1 182.6,392.0 182.9,392.3 183.2,392.6 183.5,392.5 183.8,392.7 184.1,392.5 184.4,392.2 184.7,392.0 185.0,392.2 185.3,391.7 185.6,391.6 185.9,391.4 186.2,391.5 186.5,391.2 186.8,391.0 187.1,390.8 187.4,390.8 187.7,390.8 188.0,390.5 188.3,390.7 188.6,390.4 188.9,390.4 189.2,390.3 189.5,390.3 189.8,390.7 190.1,390.9 190.4,390.8 190.7,390.7 191.0,390.8 191.3,391.1 191.6,391.3 191.9,391.4 192.2,391.3 192.5,390.8 192.8,390.7 193.1,390.4 193.4,390.4 193.7,390.3 194.0,390.0 194.3,389.8 194.6,389.9 194.9,389.5 195.2,389.7 195.5,389.7 195.8,389.7 196.1,389.3 196.4,389.0 196.7,388.7 197.0,388.5 197.3,388.4 197.6,388.1 197.9,387.5 198.2,387.4 198.5,387.0 198.8,386.8 199.1,386.6 199.4,385.9 199.7,385.9 200.0,385.7 200.3,385.3 200.6,385.1 200.9,384.8 201.2,384.4 201.5,384.3 201.8,383.9 202.1,383.8 202.4,383.7 202.7,383.5 203.0,383.3 203.3,383.4 203.6,383.2 203.9,382.6 204.2,382.6 204.5,382.5 204.8,382.2 205.1,382.1 205.4,382.0 205.7,381.9 206.0,382.1 206.3,382.4 206.6,382.2 206.9,382.4 207.2,382.4 207.5,382.0 207.8,381.9 208.1,381.4 208.4,381.1 208.7,380.5 209.0,380.0 209.3,379.2 209.6,378.9 209.9,378.5 210.2,378.0 210.5,377.3 210.8,376.8 211.1,376.3 211.4,375.7 211.7,375.2 212.0,374.9 212.3,374.6 212.6,374.3 212.9,374.2 213.2,374.1 213.5,373.8 213.8,373.5 214.1,373.3 214.4,372.9 214.7,373.4 215.0,374.0 215.3,374.4 215.6,374.6 215.9,375.4 216.2,375.9 216.5,376.2 216.8,376.6 217.1,377.2 217.4,378.3 217.7,379.1 218.0,380.0 218.3,381.0 218.6,382.4 218.9,383.3 219.2,384.4 219.5,385.3 219.8,386.1 220.1,385.7 220.4,385.5 220.7,385.0 221.0,384.8 221.3,384.7 221.6,384.6 221.9,384.6 222.2,384.4 222.5,384.3 222.8,384.5 223.1,384.6 223.4,384.8 223.7,384.6 224.0,384.6 224.3,384.7 224.6,384.5 224.9,384.9 225.2,384.7 225.5,384.5 225.8,384.7 226.1,384.5 226.4,384.7 226.7,384.7 227.0,384.5 227.3,384.4 227.6,384.7 227.9,385.2 228.2,386.1 228.5,386.8 228.8,387.7 229.1,388.2 229.4,388.7 229.7,389.3 230.0,390.3 230.3,390.6 230.6,390.6 230.9,390.4 231.2,390.7 231.5,391.0 231.8,391.0 232.1,390.7 232.4,390.6 232.7,390.6 233.0,390.6 233.3,390.6 233.6,390.7 233.9,391.1 234.2,391.4 234.5,390.9 234.8,391.0 235.1,390.6 235.4,390.5 235.7,390.4 236.0,390.3 236.3,389.5 236.6,389.2 236.9,389.1 237.2,389.1 237.5,388.5 237.8,388.2 238.1,388.3 238.4,387.8 238.7,387.6 239.0,387.4 239.3,387.4 239.6,387.5 239.9,387.0 240.2,387.0 240.5,386.9 240.8,386.8 241.1,386.5 241.4,386.5 241.7,386.0 242.0,385.8 242.3,385.5 242.6,385.7 242.9,385.6 243.2,385.4 243.5,385.2 243.8,385.4 244.1,385.4 244.4,385.5 244.7,385.3 245.0,385.2 245.3,385.0 245.6,385.2 245.9,384.8 246.2,384.9 246.5,385.1 246.8,385.1 247.1,384.8 247.4,384.6 247.7,384.9 248.0,384.9 248.3,385.1 248.6,385.2 248.9,385.0 249.2,385.1 249.5,385.1 249.8,384.9 250.1,384.8 250.4,384.5 250.7,384.6 251.0,385.0 251.3,384.7 251.6,384.8 251.9,384.6 252.2,384.4 252.5,384.7 252.8,384.6 253.1,384.4 253.4,384.4 253.7,384.7 254.0,384.8 254.3,384.5 254.6,384.8 254.9,385.7 255.2,385.9 255.5,386.5 255.8,386.9 256.1,387.5 256.4,388.0 256.7,388.5 257.0,388.9 257.3,389.1 257.6,389.4 257.9,389.6 258.2,390.3 258.5,390.3 258.8,390.4 259.1,391.2 259.4,391.3 259.7,391.9 260.0,391.9 260.3,392.2 260.6,392.4 260.9,393.0 261.2,392.9 261.5,392.8 261.8,392.8 262.1,392.8 262.4,392.4 262.7,392.3 263.0,392.1 263.3,391.7 263.6,391.9 263.9,391.8 264.2,391.8 264.5,391.4 264.8,391.3 265.1,391.2 265.4,391.3 265.7,390.9 266.0,390.9 266.3,390.9 266.6,390.7 266.9,390.8 267.2,390.9 267.5,390.8 267.8,390.8 268.1,390.8 268.4,390.5 268.7,390.4 269.0,390.7 269.3,390.4 269.6,390.3 269.9,390.1 270.2,390.0 270.5,389.9 270.8,390.3 271.1,390.3 271.4,390.4 271.7,390.5 272.0,390.3 272.3,390.3 272.6,390.1 272.9,389.9 273.2,390.1 273.5,390.1 273.8,390.1 274.1,390.0 274.4,390.1 274.7,390.0 275.0,390.3 275.3,390.5 275.6,390.2 275.9,390.5 276.2,390.2 276.5,390.1 276.8,390.4 277.1,390.4 277.4,390.5 277.7,390.7 278.0,390.5 278.3,390.8 278.6,390.7 278.9,390.8 279.2,390.9 279.5,391.2 279.8,391.4 280.1,391.2 280.4,391.0 280.7,391.0 281.0,391.0 281.3,390.8 281.6,390.8 281.9,391.1 282.2,391.2 282.5,391.4 282.8,391.4 283.1,391.4 283.4,391.1 283.7,390.7 284.0,390.7 284.3,390.7 284.6,390.7 284.9,390.7 285.2,390.6 285.5,390.8 285.8,390.6 286.1,390.5 286.4,390.7 286.7,390.8 287.0,390.5 287.3,390.2 287.6,390.4 287.9,390.0 288.2,389.8 288.5,389.9 288.8,389.9 289.1,389.7 289.4,389.4 289.7,389.4 290.0,389.7 290.3,389.6 290.6,389.8 290.9,389.8 291.2,389.8 291.5,389.2 291.8,389.0 292.1,388.8 292.4,388.8 292.7,388.8 293.0,388.6 293.3,388.7 293.6,388.5 293.9,388.6 294.2,388.6 294.5,388.9 294.8,388.8 295.1,388.7 295.4,388.5 295.7,388.6 296.0,388.8 296.3,389.0 296.6,389.2 296.9,389.2 297.2,388.9 297.5,388.7 297.8,388.9 298.1,389.1 298.4,389.0 298.7,389.1 299.0,389.0 299.3,388.8 299.6,388.6 299.9,388.5 300.2,388.8 300.5,389.1 300.8,389.3 301.1,389.2 301.4,389.2 301.7,389.5 302.0,389.5 302.3,389.4 302.6,389.3 302.9,389.3 303.2,389.1 303.5,389.1 303.8,389.3 304.1,389.7 304.4,389.6 304.7,389.5 305.0,389.5 305.3,389.5 305.6,389.7 305.9,389.7 306.2,390.0 306.5,389.6 306.8,389.5 307.1,389.5 307.4,389.4 307.7,389.7 308.0,389.7 308.3,389.8 308.6,389.6 308.9,389.2 309.2,389.3 309.5,389.3 309.8,389.2 310.1,389.1 310.4,389.2 310.7,389.4 311.0,389.0 311.3,389.1 311.6,389.0 311.9,388.9 312.2,389.2 312.5,389.3 312.8,389.1 313.1,388.8 313.4,389.0 313.7,388.7 314.0,388.6 314.3,388.8 314.6,388.6 314.9,388.4 315.2,388.7 315.5,388.9 315.8,388.5 316.1,388.4 316.4,388.3 316.7,388.1 317.0,388.0 317.3,388.4 317.6,388.1 317.9,388.0 318.2,387.9 318.5,387.7 318.8,387.9 319.1,388.1 319.4,388.3 319.7,388.3 320.0,388.4 320.3,388.0 320.6,388.0 320.9,388.4 321.2,388.1 321.5,388.1 321.8,388.3 322.1,388.2 322.4,388.4 322.7,388.2 323.0,388.2 323.3,388.7 323.6,388.5 323.9,388.8 324.2,388.6 324.5,389.0 324.8,389.0 325.1,389.0 325.4,388.7 325.7,388.6 326.0,388.9 326.3,388.8 326.6,388.7 326.9,389.1 327.2,389.4 327.5,389.0 327.8,389.4 328.1,389.4 328.4,389.3 328.7,389.1 329.0,389.2 329.3,389.7 329.6,389.5 329.9,389.3 330.2,389.3 330.5,389.3 330.8,389.3 331.1,389.7 331.4,389.3 331.7,389.2 332.0,389.5 332.3,389.7 332.6,389.8 332.9,389.4 333.2,389.2 333.5,389.4 333.8,389.2 334.1,389.3 334.4,389.0 334.7,388.7 335.0,388.7 335.3,388.9 335.6,389.0 335.9,389.0 336.2,388.9 336.5,388.8 336.8,388.8 337.1,388.8 337.4,388.9 337.7,388.6 338.0,388.7 338.3,388.9 338.6,389.0 338.9,388.6 339.2,388.9 339.5,388.9 339.8,388.5 340.1,388.4 340.4,388.3 340.7,388.2 341.0,388.7 341.3,388.6 341.6,388.8 341.9,388.5 342.2,388.3 342.5,388.7 342.8,388.9 343.1,389.1 343.4,389.0 343.7,388.9 344.0,389.0 344.3,388.6 344.6,388.7 344.9,388.7 345.2,388.6 345.5,388.8 345.8,388.7 346.1,388.8 346.4,388.8 346.7,388.8 347.0,388.8 347.3,389.0 347.6,389.4 347.9,389.6 348.2,389.7 348.5,389.8 348.8,389.5 349.1,389.8 349.4,389.6 349.7,389.5 350.0,389.6 350.3,389.9 350.6,389.8 350.9,390.0 351.2,389.9 351.5,390.4 351.8,390.3 352.1,390.3 352.4,390.4 352.7,390.7 353.0,390.9 353.3,390.7 353.6,390.5 353.9,390.5 354.2,390.2 354.5,390.3 354.8,390.5 355.1,390.6 355.4,390.2 355.7,390.5 356.0,390.3 356.3,390.6 356.6,390.4 356.9,390.1 357.2,390.2 357.5,390.5 357.8,390.3 358.1,390.5 358.4,390.5 358.7,390.2 359.0,390.1 359.3,390.1 359.6,390.1 359.9,390.0 360.2,390.1 360.5,390.2 360.8,390.1 361.1,389.8 361.4,389.6 361.7,389.6 362.0,389.7 362.3,389.5 362.6,389.3 362.9,389.4 363.2,389.3 363.5,389.1 363.8,389.3 364.1,389.6 364.4,389.5 364.7,389.6 365.0,389.6 365.3,389.6 365.6,389.7 365.9,389.4 366.2,389.4 366.5,389.0 366.8,389.3 367.1,389.1 367.4,389.0 367.7,389.2 368.0,389.0 368.3,388.8 368.6,389.0 368.9,389.0 369.2,388.7 369.5,388.5 369.8,388.5 370.1,388.3 370.4,388.7 370.7,388.5 371.0,388.4 371.3,388.5 371.6,388.5 371.9,388.5 372.2,388.6 372.5,388.6 372.8,388.5 373.1,388.2 373.4,388.6 373.7,388.5 374.0,388.2 374.3,388.1 374.6,388.3 374.9,388.5 375.2,388.0 375.5,387.7 375.8,387.8 376.1,387.8 376.4,388.1 376.7,388.2 377.0,387.9 377.3,387.8 377.6,387.8 377.9,388.0 378.2,387.6 378.5,387.5 378.8,387.3 379.1,387.5 379.4,387.2 379.7,387.6 380.0,387.6 380.3,387.6 380.6,387.3 380.9,387.2 381.2,387.3 381.5,387.6 381.8,387.6 382.1,387.4 382.4,387.7 382.7,387.7 383.0,387.6 383.3,387.3 383.6,387.2 383.9,387.6 384.2,387.2 384.5,387.3 384.8,387.4 385.1,387.3 385.4,387.5 385.7,387.7 386.0,387.7 386.3,387.7 386.6,387.3 386.9,387.0 387.2,387.1 387.5,387.1 387.8,387.0 388.1,387.3 388.4,387.1 388.7,387.4 389.0,387.7 389.3,387.4 389.6,387.7 389.9,387.6 390.2,387.5 390.5,387.5 390.8,387.4 391.1,387.7 391.4,387.8 391.7,388.2 392.0,388.4 392.3,388.0 392.6,388.1 392.9,388.2 393.2,388.1 393.5,388.2 393.8,388.3 394.1,388.6 394.4,388.6 394.7,388.5 395.0,388.5 395.3,388.6 395.6,388.7 395.9,388.5 396.2,388.7 396.5,388.4 396.8,388.5 397.1,388.5 397.4,388.2 397.7,388.4 398.0,388.3 398.3,388.2 398.6,388.2 398.9,388.2 399.2,388.1 399.5,387.7 399.8,388.0 400.1,388.1 400.4,387.9 400.7,387.8 401.0,387.6 401.3,387.8 401.6,387.8 401.9,387.5 402.2,387.7 402.5,387.9 402.8,387.7 403.1,387.9 403.4,387.7 403.7,387.5 404.0,387.6 404.3,387.5 404.6,387.7 404.9,387.8 405.2,387.7 405.5,388.1 405.8,388.6 406.1,388.7 406.4,388.9 406.7,389.4 407.0,389.4 407.3,389.6 407.6,389.9 407.9,390.3 408.2,390.1 408.5,389.8 408.8,390.0 409.1,389.9 409.4,389.7 409.7,389.9 410.0,390.0 410.3,389.7 410.6,389.9 410.9,389.8 411.2,389.7 411.5,389.3 411.8,388.9 412.1,389.0 412.4,389.1 412.7,388.9 413.0,388.9 413.3,388.9 413.6,388.8 413.9,389.0 414.2,389.1 414.5,389.0 414.8,388.9 415.1,389.1 415.4,389.0 415.7,389.3 416.0,389.1 416.3,389.1 416.6,389.1 416.9,389.2 417.2,389.4 417.5,389.2 417.8,389.1 418.1,389.3 418.4,389.3 418.7,389.5 419.0,389.4 419.3,389.3 419.6,389.5 419.9,389.8 420.2,389.9 420.5,389.7 420.8,389.5 421.1,389.2 421.4,389.2 421.7,389.1 422.0,389.5 422.3,389.2 422.6,389.5 422.9,389.3 423.2,389.2 423.5,389.0 423.8,389.3 424.1,389.0 424.4,389.0 424.7,389.0 425.0,388.8 425.3,388.7 425.6,389.1 425.9,389.1 426.2,389.3 426.5,389.5 426.8,389.1 427.1,389.4 427.4,389.6 427.7,389.4 428.0,389.5 428.3,389.9 428.6,389.8 428.9,390.1 429.2,389.9 429.5,390.1 429.8,390.1 430.1,390.2 430.4,390.3 430.7,390.7 431.0,390.9 431.3,390.9 431.6,391.1 431.9,391.1 432.2,391.4 432.5,391.3 432.8,391.5 433.1,391.7 433.4,391.8 433.7,391.7 434.0,391.8 434.3,392.2 434.6,392.2 434.9,392.6 435.2,392.8 435.5,393.2 435.8,393.3 436.1,393.2 436.4,393.0 436.7,392.7 437.0,392.8 437.3,393.0 437.6,393.2 437.9,392.9 438.2,392.7 438.5,393.1 438.8,393.1 439.1,393.0 439.4,393.1 439.7,392.8 440.0,392.9 440.3,393.0 440.6,393.1 440.9,392.9 441.2,392.8 441.5,393.0 441.8,393.4 442.1,393.1 442.4,392.9 442.7,392.9 443.0,393.3 443.3,393.3 443.6,393.4 443.9,393.8 444.2,393.8 444.5,393.6 444.8,393.8 445.1,393.5 445.4,393.5 445.7,393.8 446.0,393.7 446.3,393.6 446.6,393.8 446.9,393.9 447.2,394.3 447.5,394.0 447.8,394.3 448.1,394.3 448.4,394.5 448.7,394.5 449.0,394.6 449.3,394.5 449.6,394.4 449.9,394.5 450.2,394.8 450.5,394.7 450.8,394.7 451.1,394.8 451.4,394.6 451.7,394.7 452.0,395.0 452.3,395.1 452.6,395.2 452.9,395.2 453.2,395.0 453.5,394.9 453.8,395.1 454.1,395.1 454.4,395.4 454.7,395.4 455.0,395.7 455.3,395.7 455.6,395.7 455.9,395.8 456.2,395.7 456.5,395.5 456.8,395.4 457.1,395.1 457.4,395.4 457.7,395.4 458.0,395.1 458.3,395.5 458.6,395.4 458.9,395.4 459.2,395.3 459.5,395.0 459.8,395.4 460.1,395.1 460.4,395.0 460.7,395.3 461.0,395.0 461.3,395.0 461.6,395.0 461.9,394.9 462.2,395.2 462.5,395.1 462.8,394.8 463.1,395.0 463.4,394.8 463.7,395.1 464.0,395.4 464.3,395.5 464.6,395.1 464.9,395.3 465.2,395.2 465.5,395.2 465.8,395.2 466.1,395.1 466.4,395.0 466.7,395.4 467.0,395.2 467.3,395.7 467.6,395.5 467.9,395.9 468.2,395.7 468.5,395.6 468.8,396.0 469.1,396.1 469.4,396.3 469.7,396.3 470.0,396.4 470.3,396.2 470.6,396.5 470.9,396.6 471.2,396.9 471.5,396.4 471.8,396.2 472.1,396.4 472.4,396.6 472.7,396.3 473.0,396.3 473.3,396.2 473.6,396.0 473.9,395.9 474.2,395.9 474.5,395.6 474.8,395.5 475.1,395.7 475.4,395.5 475.7,395.4 476.0,395.3 476.3,395.2 476.6,395.3 476.9,395.4 477.2,395.5 477.5,395.2 477.8,394.8 478.1,394.5 478.4,394.1 478.7,393.9 479.0,393.9 479.3,393.8 479.6,393.4 479.9,393.0 480.2,392.7 480.5,392.5 480.8,392.4 481.1,392.2 481.4,392.3 481.7,392.0 482.0,391.7 482.3,391.4 482.6,391.0 482.9,391.2 483.2,391.3 483.5,391.1 483.8,391.1 484.1,390.9 484.4,390.7 484.7,390.5 485.0,390.4 485.3,390.6 485.6,390.6 485.9,390.7 486.2,390.3 486.5,390.4 486.8,390.3 487.1,390.2 487.4,390.1 487.7,390.0 488.0,389.8 488.3,389.7 488.6,389.8 488.9,389.8 489.2,389.9 489.5,389.5 489.8,389.6 490.1,389.6 490.4,389.5 490.7,389.5 491.0,389.0 491.3,389.1 491.6,389.3 491.9,389.2 492.2,389.6 492.5,390.1 492.8,390.1 493.1,390.5 493.4,390.9 493.7,391.0 494.0,391.0 494.3,391.1 494.6,391.7 494.9,391.9 495.2,392.1 495.5,392.3 495.8,392.7 496.1,392.5 496.4,392.3 496.7,392.8 497.0,392.7 497.3,392.7 497.6,393.1 497.9,392.9 498.2,392.7 498.5,393.1 498.8,393.0 499.1,392.9 499.4,393.4 499.7,393.2 500.0,393.5 500.3,393.4 500.6,393.2 500.9,393.1 501.2,393.1 501.5,393.2 501.8,393.0 502.1,393.0 502.4,392.9 502.7,393.1 503.0,393.2 503.3,393.1 503.6,393.1 503.9,392.6 504.2,392.4 504.5,392.3 504.8,392.2 505.1,392.6 505.4,392.7 505.7,392.7 506.0,392.5 506.3,392.1 506.6,392.0 506.9,391.8 507.2,392.2 507.5,392.1 507.8,392.1 508.1,392.5 508.4,392.3 508.7,392.6 509.0,392.4 509.3,392.6 509.6,392.4 509.9,392.7 510.2,392.7 510.5,392.6 510.8,392.8 511.1,392.9 511.4,392.7 511.7,392.6 512.0,392.8 512.3,392.6 512.6,393.1 512.9,393.0 513.2,392.9 513.5,393.0 513.8,392.9 514.1,393.0 514.4,393.2 514.7,393.3 515.0,393.2 515.3,393.0 515.6,393.0 515.9,393.1 516.2,392.9 516.5,392.9 516.8,392.7 517.1,392.3 517.4,392.1 517.7,392.4 518.0,392.2 518.3,392.0 518.6,391.9 518.9,392.0 519.2,391.7 519.5,391.5 519.8,391.3 520.1,391.0 520.4,391.1 520.7,391.0 521.0,390.9 521.3,390.8 521.6,390.8 521.9,391.0 522.2,390.8 522.5,391.2 522.8,390.9 523.1,391.2 523.4,391.0 523.7,391.3 524.0,391.1 524.3,390.9 524.6,391.2 524.9,391.5 525.2,391.7 525.5,391.8 525.8,391.9 526.1,391.5 526.4,391.5 526.7,391.3 527.0,391.7 527.3,391.7 527.6,391.9 527.9,392.0 528.2,392.2 528.5,392.1 528.8,392.2 529.1,392.1 529.4,391.8 529.7,392.1 530.0,391.8 530.3,391.6 530.6,392.0 530.9,391.9 531.2,392.1 531.5,391.8 531.8,391.8 532.1,392.1 532.4,391.9 532.7,392.0 533.0,392.4 533.3,392.1 533.6,392.3 533.9,392.5 534.2,392.5 534.5,392.6 534.8,392.6 535.1,392.2 535.4,392.1 535.7,392.3 536.0,392.6 536.3,392.3 536.6,392.2 536.9,391.9 537.2,392.1 537.5,391.9 537.8,391.8 538.1,391.8 538.4,391.5 538.7,391.6 539.0,391.6 539.3,391.6 539.6,391.2 539.9,391.0 540.2,390.7 540.5,391.0 540.8,390.8 541.1,390.6 541.4,390.6 541.7,390.6 542.0,390.3 542.3,390.1 542.6,390.2 542.9,390.2 543.2,389.8 543.5,389.5 543.8,389.7 544.1,389.7 544.4,389.5 544.7,389.3 545.0,389.6 545.3,389.7 545.6,389.7 545.9,389.8 546.2,390.1 546.5,390.6 546.8,390.8 547.1,391.4 547.4,391.7 547.7,391.8 548.0,392.1 548.3,392.1 548.6,391.9 548.9,391.5 549.2,391.3 549.5,391.0 549.8,391.0 550.1,390.4 550.4,390.4 550.7,390.0 551.0,390.0 551.3,389.4 551.6,389.2 551.9,389.0 552.2,389.0 552.5,388.8 552.8,388.8 553.1,388.8 553.4,389.0 553.7,389.2 554.0,389.0 554.3,389.1 554.6,389.1 554.9,389.6 555.2,389.6 555.5,389.8 555.8,390.0 556.1,390.4 556.4,390.9 556.7,391.2 557.0,391.1 557.3,391.4 557.6,391.8 557.9,391.9 558.2,392.5 558.5,392.7 558.8,392.7 559.1,392.8 559.4,392.7 559.7,392.6 560.0,392.7 560.3,392.5 560.6,392.2 560.9,391.9 561.2,392.0 561.5,391.8 561.8,391.8 562.1,391.6 562.4,391.3 562.7,391.1 563.0,391.0 563.3,390.9 563.6,391.3 563.9,391.3 564.2,391.0 564.5,391.2 564.8,391.2 565.1,390.8 565.4,391.0 565.7,390.8 566.0,391.1 566.3,390.7 566.6,390.6 566.9,390.5 567.2,390.8 567.5,390.9 567.8,390.7 568.1,390.4 568.4,390.4 568.7,390.8 569.0,390.6 569.3,391.2 569.6,391.5 569.9,391.8 570.2,391.7 570.5,391.5 570.8,391.6 571.1,391.1 571.4,390.9 571.7,390.5 572.0,390.4 572.3,390.6 572.6,390.2 572.9,390.4 573.2,390.2 573.5,390.3 573.8,390.2 574.1,390.1 574.4,390.1 574.7,389.5 575.0,389.3 575.3,389.1 575.6,389.0 575.9,388.9 576.2,388.9 576.5,388.8 576.8,388.7 577.1,388.4 577.4,388.0 577.7,387.7 578.0,387.6 578.3,387.5 578.6,387.1 578.9,386.8 579.2,386.7 579.5,386.3 579.8,386.4 580.1,385.8 580.4,386.0 580.7,386.0 581.0,385.8 581.3,385.9 581.6,385.8 581.9,386.1 582.2,386.2 582.5,386.0 582.8,386.1 583.1,386.1 583.4,385.7 583.7,385.9 584.0,385.9 584.3,386.1 584.6,386.0 584.9,385.7 585.2,385.4 585.5,385.5 585.8,385.3 586.1,385.5 586.4,385.5 586.7,385.7 587.0,385.5 587.3,385.4 587.6,385.8 587.9,385.8 588.2,385.6 588.5,385.7 588.8,385.7 589.1,385.8 589.4,385.8 589.7,385.7 590.0,386.0 590.3,386.2 590.6,386.2 590.9,385.9 591.2,385.8 591.5,386.0 591.8,386.2 592.1,386.2 592.4,386.0 592.7,386.2 593.0,386.2 593.3,386.1 593.6,386.2 593.9,386.2 594.2,386.4 594.5,386.5 594.8,386.8 595.1,386.4 595.4,386.5 595.7,386.8 596.0,386.8 596.3,386.7 596.6,386.9 596.9,386.5 597.2,386.8 597.5,386.9 597.8,386.9 598.1,386.8 598.4,386.9 598.7,386.6 599.0,386.6 599.3,386.5 599.6,386.8 599.9,386.8 600.2,386.6 600.5,386.7 600.8,386.4 601.1,386.4 601.4,386.1 601.7,386.4 602.0,386.4 602.3,386.4 602.6,386.0 602.9,386.2 603.2,385.8 603.5,385.9 603.8,385.8 604.1,385.5 604.4,385.6 604.7,385.9 605.0,385.8 605.3,385.6 605.6,385.7 605.9,385.5 606.2,385.7 606.5,385.5 606.8,385.2 607.1,385.5 607.4,385.2 607.7,385.1 608.0,385.3 608.3,385.0 608.6,385.1 608.9,385.4 609.2,385.3 609.5,385.1 609.8,385.2 610.1,385.3 610.4,385.2 610.7,385.2 611.0,384.9 611.3,384.9 611.6,385.2 611.9,385.3 612.2,384.8 612.5,384.6 612.8,384.5 613.1,384.7 613.4,384.4 613.7,384.2 614.0,384.4 614.3,384.1 614.6,384.4 614.9,384.2 615.2,384.3 615.5,384.3 615.8,383.9 616.1,384.0 616.4,383.8 616.7,383.5 617.0,383.2 617.3,383.4 617.6,383.4 617.9,383.3 618.2,383.5 618.5,383.2 618.8,383.2 619.1,383.0 619.4,383.0 619.7,383.3 620.0,383.2 620.3,382.9 620.6,382.9 620.9,383.0 621.2,382.9 621.5,383.2 621.8,382.8 622.1,383.1 622.4,383.1 622.7,383.2 623.0,382.9 623.3,382.6 623.6,382.5 623.9,382.8 624.2,382.8 624.5,382.8 624.8,383.4 625.1,383.8 625.4,384.0 625.7,384.2 626.0,384.2 626.3,384.5 626.6,384.6 626.9,384.7 627.2,384.7 627.5,384.5 627.8,384.6 628.1,384.8 628.4,385.1 628.7,385.1 629.0,385.5 629.3,385.5 629.6,385.6 629.9,385.8 630.2,385.4 630.5,385.7 630.8,385.8 631.1,385.5 631.4,385.2 631.7,385.5 632.0,385.7 632.3,385.7 632.6,385.5 632.9,385.5 633.2,385.2 633.5,385.2 633.8,385.3 634.1,385.5 634.4,385.2 634.7,385.6 635.0,385.2 635.3,385.6 635.6,385.3 635.9,385.5 636.2,385.6 636.5,385.7 636.8,385.4 637.1,385.4 637.4,385.1 637.7,385.3 638.0,385.0 638.3,385.2 638.6,385.2 638.9,384.8 639.2,385.2 639.5,384.9 639.8,384.7 640.1,384.6 640.4,384.4 640.7,384.5 641.0,384.7 641.3,385.0 641.6,384.9 641.9,384.9 642.2,384.9 642.5,384.7 642.8,384.4 643.1,384.2 643.4,384.0 643.7,384.1 644.0,383.9 644.3,384.0 644.6,383.9 644.9,383.9 645.2,383.8 645.5,383.8 645.8,383.5 646.1,383.4 646.4,383.5 646.7,383.3 647.0,383.4 647.3,383.7 647.6,383.5 647.9,383.8 648.2,383.7 648.5,383.9 648.8,383.7 649.1,383.8 649.4,383.8 649.7,383.5 650.0,383.6 650.3,383.7 650.6,383.7 650.9,383.8 651.2,384.0 651.5,384.1 651.8,384.1 652.1,383.7 652.4,383.9 652.7,384.0 653.0,384.2 653.3,383.7 653.6,383.6 653.9,384.1 654.2,383.9 654.5,384.1 654.8,384.1 655.1,384.0 655.4,383.9 655.7,383.9 656.0,384.2 656.3,384.0 656.6,384.1 656.9,383.8 657.2,383.9 657.5,383.8 657.8,383.9 658.1,384.0 658.4,383.5 658.7,383.8 659.0,383.7 659.3,383.4 659.6,383.4 659.9,383.2 660.2,383.1 660.5,383.4 660.8,383.5 661.1,383.6 661.4,383.2 661.7,382.9 662.0,383.0 662.3,383.0 662.6,383.2 662.9,383.0 663.2,383.1 663.5,383.1 663.8,382.9 664.1,383.1 664.4,382.7 664.7,382.8 665.0,382.6 665.3,382.4 665.6,382.7 665.9,382.9 666.2,383.0 666.5,383.0 666.8,383.4 667.1,383.5 667.4,383.2 667.7,383.0 668.0,383.5 668.3,383.4 668.6,383.2 668.9,383.2 669.2,383.6 669.5,383.5 669.8,383.5 670.1,383.8 670.4,383.8 670.7,384.0 671.0,384.3 671.3,384.3 671.6,384.2 671.9,384.1 672.2,383.9 672.5,384.0 672.8,384.0 673.1,383.9 673.4,383.8 673.7,383.9 674.0,383.6 674.3,383.8 674.6,384.0 674.9,383.5 675.2,383.4 675.5,383.8 675.8,383.4 676.1,383.6 676.4,383.6 676.7,383.3 677.0,383.4 677.3,383.1 677.6,383.4 677.9,383.2 678.2,383.5 678.5,383.5 678.8,383.1 679.1,383.0 679.4,382.8 679.7,383.0 680.0,382.7 680.3,382.5 680.6,382.4 680.9,382.8 681.2,382.6 681.5,382.5 681.8,382.5 682.1,382.6 682.4,382.5 682.7,382.7 683.0,382.5 683.3,382.4 683.6,382.6 683.9,382.4 684.2,382.2 684.5,382.6 684.8,382.4 685.1,382.7 685.4,382.8 685.7,382.6 686.0,382.5 686.3,382.4 686.6,382.7 686.9,382.7 687.2,382.6 687.5,382.5 687.8,382.5 688.1,382.9 688.4,382.6 688.7,382.9 689.0,383.1 689.3,383.3 689.6,383.4 689.9,383.5 690.2,383.5 690.5,384.0 690.8,384.3 691.1,384.4 691.4,384.3 691.7,384.7 692.0,384.6 692.3,384.6 692.6,384.9 692.9,385.3 693.2,385.4 693.5,385.3 693.8,385.6 694.1,385.2 694.4,385.1 694.7,385.5 695.0,385.5 695.3,385.4 695.6,385.0 695.9,385.2 696.2,385.0 696.5,384.7 696.8,385.0 697.1,385.2 697.4,384.7 697.7,384.9 698.0,385.5 698.3,385.6 698.6,385.8 698.9,386.4 699.2,386.6 699.5,387.2 699.8,387.6 700.1,388.0 700.4,388.2 700.7,388.0 701.0,388.0 701.3,387.9 701.6,387.8 701.9,387.7 702.2,387.5 702.5,387.3 702.8,387.5 703.1,387.3 703.4,387.0 703.7,387.3 704.0,387.1 704.3,387.1 704.6,386.8 704.9,386.9 705.2,387.2 705.5,387.7 705.8,387.8 706.1,388.4 706.4,388.4 706.7,388.9 707.0,388.9 707.3,389.2 707.6,389.3 707.9,389.5 708.2,389.9 708.5,390.2 708.8,390.6 709.1,390.7 709.4,391.0 709.7,391.5" fill="none" stroke="#06205f" stroke-width="4.5" stroke-linejoin="round" stroke-linecap="butt"/>
</g>
<rect x="157.5" y="13.3" width="31" height="6.4" fill="#a6a6a6"/>
<line x1="337.2" x2="369.3" y1="17" y2="17" stroke="#c80000" stroke-width="4.1" stroke-linecap="round"/>
<line x1="503.3" x2="535.3" y1="17" y2="17" stroke="#06205f" stroke-width="4.1" stroke-linecap="round"/>
<g fill="#505050" font-family="'Liberation Serif', 'Noto Serif CJK SC', serif" font-size="13.5">
<text x="192.5" y="21.4" textLength="121" lengthAdjust="spacing">相对净值（右轴）</text>
<text x="373.3" y="21.4" textLength="106" lengthAdjust="spacing">进取型股票组合</text>
<text x="540.3" y="21.4" textLength="59" lengthAdjust="spacing">中证全指</text>
</g>
<g font-family="'Liberation Serif', serif" font-size="15.6" fill="#747474">
<text transform="translate(27.9,52.8) scale(0.95,1)" text-anchor="end">25</text>
<text transform="translate(27.9,126.0) scale(0.95,1)" text-anchor="end">20</text>
<text transform="translate(27.9,199.2) scale(0.95,1)" text-anchor="end">15</text>
<text transform="translate(27.9,272.4) scale(0.95,1)" text-anchor="end">10</text>
<text transform="translate(27.9,345.6) scale(0.95,1)" text-anchor="end">5</text>
<text transform="translate(27.9,418.8) scale(0.95,1)" text-anchor="end">0</text>
<text transform="translate(722.4,52.8) scale(0.95,1)">12</text>
<text transform="translate(722.4,113.8) scale(0.95,1)">10</text>
<text transform="translate(722.4,174.8) scale(0.95,1)">8</text>
<text transform="translate(722.4,235.8) scale(0.95,1)">6</text>
<text transform="translate(722.4,296.8) scale(0.95,1)">4</text>
<text transform="translate(722.4,357.8) scale(0.95,1)">2</text>
<text transform="translate(722.4,418.8) scale(0.95,1)">0</text>
<text transform="translate(40.30,422.4) rotate(-90) scale(0.938,1)" text-anchor="end" y="5.1" font-size="15.2" dx="0.00 0.00 0.00 0.00 1.93 1.93 0.00 1.93 1.93 0.00">2012/12/31</text>
<text transform="translate(57.74,422.4) rotate(-90) scale(0.938,1)" text-anchor="end" y="5.1" font-size="15.2" dx="0.00 0.00 0.00 0.00 1.93 1.93 1.93 1.93">2013/4/3</text>
<text transform="translate(75.18,422.4) rotate(-90) scale(0.938,1)" text-anchor="end" y="5.1" font-size="15.2" dx="0.00 0.00 0.00 0.00 1.93 1.93 1.93 1.93">2013/7/5</text>
<text transform="translate(92.62,422.4) rotate(-90) scale(0.938,1)" text-anchor="end" y="5.1" font-size="15.2" dx="0.00 0.00 0.00 0.00 1.93 1.93 1.93 1.93 0.00">2013/9/30</text>
<text transform="translate(110.06,422.4) rotate(-90) scale(0.938,1)" text-anchor="end" y="5.1" font-size="15.2" dx="0.00 0.00 0.00 0.00 1.93 1.93 0.00 1.93 1.93 0.00">2013/12/27</text>
<text transform="translate(127.50,422.4) rotate(-90) scale(0.938,1)" text-anchor="end" y="5.1" font-size="15.2" dx="0.00 0.00 0.00 0.00 1.93 1.93 1.93 1.93 0.00">2014/3/28</text>
<text transform="translate(144.94,422.4) rotate(-90) scale(0.938,1)" text-anchor="end" y="5.1" font-size="15.2" dx="0.00 0.00 0.00 0.00 1.93 1.93 1.93 1.93 0.00">2014/6/25</text>
<text transform="translate(162.38,422.4) rotate(-90) scale(0.938,1)" text-anchor="end" y="5.1" font-size="15.2" dx="0.00 0.00 0.00 0.00 1.93 1.93 1.93 1.93 0.00">2014/9/17</text>
<text transform="translate(179.82,422.4) rotate(-90) scale(0.938,1)" text-anchor="end" y="5.1" font-size="15.2" dx="0.00 0.00 0.00 0.00 1.93 1.93 0.00 1.93 1.93 0.00">2014/12/16</text>
<text transform="translate(197.26,422.4) rotate(-90) scale(0.938,1)" text-anchor="end" y="5.1" font-size="15.2" dx="0.00 0.00 0.00 0.00 1.93 1.93 1.93 1.93 0.00">2015/3/18</text>
<text transform="translate(214.70,422.4) rotate(-90) scale(0.938,1)" text-anchor="end" y="5.1" font-size="15.2" dx="0.00 0.00 0.00 0.00 1.93 1.93 1.93 1.93 0.00">2015/6/11</text>
<text transform="translate(232.14,422.4) rotate(-90) scale(0.938,1)" text-anchor="end" y="5.1" font-size="15.2" dx="0.00 0.00 0.00 0.00 1.93 1.93 1.93 1.93">2015/9/7</text>
<text transform="translate(249.58,422.4) rotate(-90) scale(0.938,1)" text-anchor="end" y="5.1" font-size="15.2" dx="0.00 0.00 0.00 0.00 1.93 1.93 0.00 1.93 1.93">2015/12/4</text>
<text transform="translate(267.02,422.4) rotate(-90) scale(0.938,1)" text-anchor="end" y="5.1" font-size="15.2" dx="0.00 0.00 0.00 0.00 1.93 1.93 1.93 1.93">2016/3/4</text>
<text transform="translate(284.46,422.4) rotate(-90) scale(0.938,1)" text-anchor="end" y="5.1" font-size="15.2" dx="0.00 0.00 0.00 0.00 1.93 1.93 1.93 1.93 0.00">2016/5/30</text>
<text transform="translate(301.90,422.4) rotate(-90) scale(0.938,1)" text-anchor="end" y="5.1" font-size="15.2" dx="0.00 0.00 0.00 0.00 1.93 1.93 1.93 1.93 0.00">2016/8/23</text>
<text transform="translate(319.34,422.4) rotate(-90) scale(0.938,1)" text-anchor="end" y="5.1" font-size="15.2" dx="0.00 0.00 0.00 0.00 1.93 1.93 0.00 1.93 1.93 0.00">2016/11/23</text>
<text transform="translate(336.78,422.4) rotate(-90) scale(0.938,1)" text-anchor="end" y="5.1" font-size="15.2" dx="0.00 0.00 0.00 0.00 1.93 1.93 1.93 1.93 0.00">2017/2/22</text>
<text transform="translate(354.22,422.4) rotate(-90) scale(0.938,1)" text-anchor="end" y="5.1" font-size="15.2" dx="0.00 0.00 0.00 0.00 1.93 1.93 1.93 1.93 0.00">2017/5/19</text>
<text transform="translate(371.66,422.4) rotate(-90) scale(0.938,1)" text-anchor="end" y="5.1" font-size="15.2" dx="0.00 0.00 0.00 0.00 1.93 1.93 1.93 1.93 0.00">2017/8/14</text>
<text transform="translate(389.10,422.4) rotate(-90) scale(0.938,1)" text-anchor="end" y="5.1" font-size="15.2" dx="0.00 0.00 0.00 0.00 1.93 1.93 0.00 1.93 1.93 0.00">2017/11/10</text>
<text transform="translate(406.54,422.4) rotate(-90) scale(0.938,1)" text-anchor="end" y="5.1" font-size="15.2" dx="0.00 0.00 0.00 0.00 1.93 1.93 1.93 1.93">2018/2/2</text>
<text transform="translate(423.98,422.4) rotate(-90) scale(0.938,1)" text-anchor="end" y="5.1" font-size="15.2" dx="0.00 0.00 0.00 0.00 1.93 1.93 1.93 1.93">2018/5/9</text>
<text transform="translate(441.42,422.4) rotate(-90) scale(0.938,1)" text-anchor="end" y="5.1" font-size="15.2" dx="0.00 0.00 0.00 0.00 1.93 1.93 1.93 1.93">2018/8/1</text>
<text transform="translate(458.86,422.4) rotate(-90) scale(0.938,1)" text-anchor="end" y="5.1" font-size="15.2" dx="0.00 0.00 0.00 0.00 1.93 1.93 0.00 1.93 1.93 0.00">2018/10/31</text>
<text transform="translate(476.30,422.4) rotate(-90) scale(0.938,1)" text-anchor="end" y="5.1" font-size="15.2" dx="0.00 0.00 0.00 0.00 1.93 1.93 1.93 1.93 0.00">2019/1/24</text>
<text transform="translate(493.74,422.4) rotate(-90) scale(0.938,1)" text-anchor="end" y="5.1" font-size="15.2" dx="0.00 0.00 0.00 0.00 1.93 1.93 1.93 1.93 0.00">2019/4/25</text>
<text transform="translate(511.18,422.4) rotate(-90) scale(0.938,1)" text-anchor="end" y="5.1" font-size="15.2" dx="0.00 0.00 0.00 0.00 1.93 1.93 1.93 1.93 0.00">2019/7/23</text>
<text transform="translate(528.62,422.4) rotate(-90) scale(0.938,1)" text-anchor="end" y="5.1" font-size="15.2" dx="0.00 0.00 0.00 0.00 1.93 1.93 0.00 1.93 1.93 0.00">2019/10/22</text>
<text transform="translate(546.06,422.4) rotate(-90) scale(0.938,1)" text-anchor="end" y="5.1" font-size="15.2" dx="0.00 0.00 0.00 0.00 1.93 1.93 1.93 1.93 0.00">2020/1/14</text>
<text transform="translate(563.50,422.4) rotate(-90) scale(0.938,1)" text-anchor="end" y="5.1" font-size="15.2" dx="0.00 0.00 0.00 0.00 1.93 1.93 1.93 1.93 0.00">2020/4/15</text>
<text transform="translate(580.94,422.4) rotate(-90) scale(0.938,1)" text-anchor="end" y="5.1" font-size="15.2" dx="0.00 0.00 0.00 0.00 1.93 1.93 1.93 1.93 0.00">2020/7/14</text>
<text transform="translate(598.38,422.4) rotate(-90) scale(0.938,1)" text-anchor="end" y="5.1" font-size="15.2" dx="0.00 0.00 0.00 0.00 1.93 1.93 0.00 1.93 1.93 0.00">2020/10/13</text>
<text transform="translate(615.82,422.4) rotate(-90) scale(0.938,1)" text-anchor="end" y="5.1" font-size="15.2" dx="0.00 0.00 0.00 0.00 1.93 1.93 1.93 1.93">2021/1/5</text>
<text transform="translate(633.26,422.4) rotate(-90) scale(0.938,1)" text-anchor="end" y="5.1" font-size="15.2" dx="0.00 0.00 0.00 0.00 1.93 1.93 1.93 1.93">2021/4/6</text>
<text transform="translate(650.70,422.4) rotate(-90) scale(0.938,1)" text-anchor="end" y="5.1" font-size="15.2" dx="0.00 0.00 0.00 0.00 1.93 1.93 1.93 1.93">2021/7/2</text>
<text transform="translate(668.14,422.4) rotate(-90) scale(0.938,1)" text-anchor="end" y="5.1" font-size="15.2" dx="0.00 0.00 0.00 0.00 1.93 1.93 1.93 1.93 0.00">2021/9/27</text>
<text transform="translate(685.58,422.4) rotate(-90) scale(0.938,1)" text-anchor="end" y="5.1" font-size="15.2" dx="0.00 0.00 0.00 0.00 1.93 1.93 0.00 1.93 1.93 0.00">2021/12/24</text>
<text transform="translate(703.02,422.4) rotate(-90) scale(0.938,1)" text-anchor="end" y="5.1" font-size="15.2" dx="0.00 0.00 0.00 0.00 1.93 1.93 1.93 1.93 0.00">2022/3/25</text>
</g>
</svg>
</body></html>
